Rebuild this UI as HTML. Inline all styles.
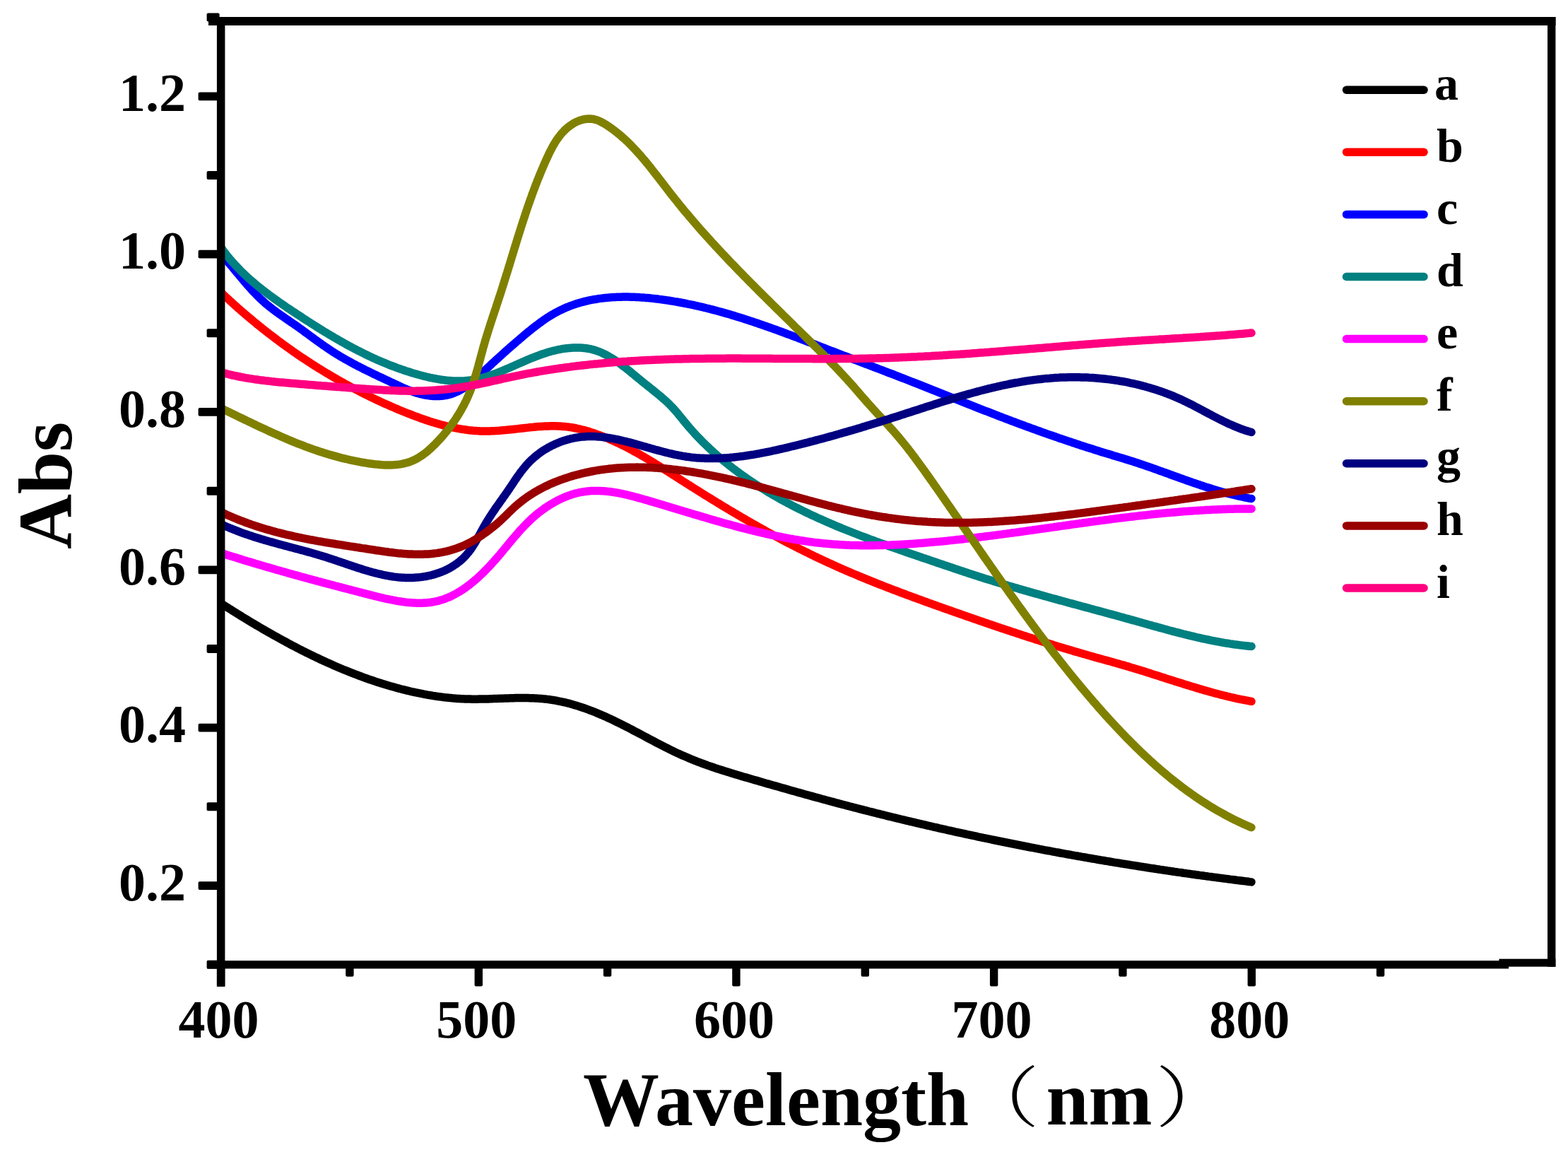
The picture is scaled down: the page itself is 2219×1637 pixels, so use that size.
<!DOCTYPE html>
<html><head><meta charset="utf-8"><title>Abs vs Wavelength</title>
<style>html,body{margin:0;padding:0;background:#fff;}svg{display:block;}</style>
</head><body>
<svg xmlns="http://www.w3.org/2000/svg" width="2219" height="1637" viewBox="0 0 2219 1637">
<rect x="0" y="0" width="2219" height="1637" fill="#fff"/>
<path d="M313.4,854.2 L315.5,855.5 L317.6,856.8 L319.7,858.2 L321.9,859.5 L324.0,860.9 L326.1,862.2 L328.2,863.5 L330.3,864.9 L332.4,866.2 L334.6,867.5 L336.7,868.8 L338.9,870.2 L341.0,871.5 L343.1,872.8 L345.3,874.1 L347.4,875.4 L349.6,876.7 L351.8,878.1 L353.9,879.4 L356.1,880.7 L358.3,882.0 L360.5,883.3 L362.6,884.6 L364.8,885.8 L367.0,887.1 L369.2,888.4 L371.4,889.7 L373.6,891.0 L375.8,892.3 L378.0,893.5 L380.2,894.8 L382.5,896.1 L384.7,897.3 L386.9,898.6 L389.1,899.8 L391.4,901.1 L393.6,902.3 L395.8,903.5 L398.1,904.8 L400.3,906.0 L402.6,907.2 L404.8,908.4 L407.1,909.6 L409.3,910.9 L411.6,912.1 L413.9,913.3 L416.1,914.4 L418.4,915.6 L420.7,916.8 L423.0,918.0 L425.2,919.2 L427.5,920.3 L429.8,921.5 L432.1,922.6 L434.4,923.8 L436.7,924.9 L439.0,926.0 L441.3,927.2 L443.6,928.3 L445.9,929.4 L448.2,930.5 L450.6,931.6 L452.9,932.7 L455.2,933.8 L457.5,934.9 L459.9,935.9 L462.2,937.0 L464.5,938.0 L466.9,939.1 L469.2,940.1 L471.6,941.2 L473.9,942.2 L476.3,943.2 L478.6,944.2 L481.0,945.2 L483.4,946.2 L485.7,947.2 L488.1,948.2 L490.5,949.1 L492.8,950.1 L495.2,951.0 L497.6,952.0 L500.0,952.9 L502.4,953.8 L504.8,954.7 L507.1,955.6 L509.5,956.5 L511.9,957.4 L514.3,958.3 L516.7,959.2 L519.1,960.0 L521.5,960.9 L524.0,961.7 L526.4,962.5 L528.8,963.3 L531.2,964.2 L533.6,964.9 L536.1,965.7 L538.5,966.5 L540.9,967.3 L543.3,968.0 L545.8,968.8 L548.2,969.5 L550.7,970.2 L553.1,970.9 L555.5,971.6 L558.0,972.3 L560.4,973.0 L562.9,973.7 L565.3,974.3 L567.8,975.0 L570.3,975.6 L572.7,976.2 L575.2,976.8 L577.6,977.4 L580.1,978.0 L582.6,978.6 L585.1,979.1 L587.5,979.7 L590.0,980.2 L592.5,980.7 L595.0,981.2 L597.5,981.7 L599.9,982.2 L602.4,982.6 L604.9,983.1 L607.4,983.5 L609.9,983.9 L612.4,984.4 L614.9,984.7 L617.4,985.1 L619.9,985.5 L622.4,985.8 L625.0,986.1 L627.5,986.5 L630.0,986.8 L632.5,987.0 L635.0,987.3 L637.5,987.5 L640.1,987.8 L642.6,988.0 L645.1,988.2 L647.7,988.4 L650.2,988.5 L652.7,988.7 L655.3,988.8 L657.8,988.9 L660.4,989.0 L662.9,989.1 L665.4,989.1 L668.0,989.2 L670.5,989.2 L673.1,989.2 L675.7,989.2 L678.2,989.1 L680.8,989.1 L683.3,989.1 L685.9,989.0 L688.4,988.9 L691.0,988.9 L693.6,988.8 L696.1,988.7 L698.7,988.6 L701.3,988.5 L703.8,988.4 L706.4,988.3 L709.0,988.3 L711.5,988.2 L714.1,988.1 L716.6,988.0 L719.2,987.9 L721.8,987.8 L724.3,987.8 L726.9,987.7 L729.4,987.6 L732.0,987.6 L734.5,987.6 L737.1,987.5 L739.6,987.5 L742.2,987.5 L744.7,987.6 L747.2,987.6 L749.8,987.7 L752.3,987.7 L754.8,987.8 L757.4,987.9 L759.9,988.1 L762.4,988.2 L764.9,988.4 L767.4,988.6 L769.9,988.9 L772.4,989.1 L774.9,989.4 L777.4,989.7 L779.9,990.1 L782.4,990.5 L784.9,990.9 L787.4,991.3 L789.8,991.8 L792.3,992.3 L794.8,992.8 L797.2,993.3 L799.7,993.9 L802.1,994.5 L804.6,995.1 L807.0,995.8 L809.5,996.5 L811.9,997.2 L814.3,997.9 L816.7,998.6 L819.1,999.4 L821.6,1000.2 L824.0,1001.0 L826.4,1001.8 L828.8,1002.6 L831.1,1003.5 L833.5,1004.4 L835.9,1005.3 L838.3,1006.2 L840.7,1007.1 L843.0,1008.1 L845.4,1009.1 L847.7,1010.1 L850.1,1011.1 L852.4,1012.1 L854.8,1013.1 L857.1,1014.1 L859.5,1015.2 L861.8,1016.3 L864.1,1017.3 L866.4,1018.4 L868.7,1019.5 L871.0,1020.6 L873.3,1021.8 L875.6,1022.9 L877.9,1024.0 L880.2,1025.2 L882.5,1026.3 L884.8,1027.5 L887.1,1028.6 L889.3,1029.8 L891.6,1031.0 L893.9,1032.2 L896.1,1033.4 L898.4,1034.6 L900.7,1035.7 L902.9,1036.9 L905.2,1038.1 L907.4,1039.3 L909.7,1040.5 L911.9,1041.7 L914.2,1042.9 L916.4,1044.1 L918.7,1045.3 L920.9,1046.5 L923.2,1047.7 L925.5,1048.9 L927.7,1050.1 L930.0,1051.3 L932.2,1052.4 L934.5,1053.6 L936.7,1054.8 L939.0,1055.9 L941.3,1057.1 L943.5,1058.2 L945.8,1059.3 L948.1,1060.5 L950.4,1061.6 L952.7,1062.7 L954.9,1063.8 L957.2,1064.9 L959.5,1065.9 L961.8,1067.0 L964.1,1068.1 L966.5,1069.1 L968.8,1070.1 L971.1,1071.1 L973.4,1072.1 L975.8,1073.1 L978.1,1074.1 L980.5,1075.0 L982.8,1076.0 L985.2,1076.9 L987.5,1077.8 L989.9,1078.7 L992.3,1079.6 L994.7,1080.5 L997.0,1081.3 L999.4,1082.2 L1001.8,1083.1 L1004.2,1083.9 L1006.6,1084.7 L1009.0,1085.5 L1011.4,1086.4 L1013.8,1087.2 L1016.2,1088.0 L1018.7,1088.7 L1021.1,1089.5 L1023.5,1090.3 L1025.9,1091.1 L1028.3,1091.8 L1030.8,1092.6 L1033.2,1093.3 L1035.6,1094.1 L1038.1,1094.8 L1040.5,1095.6 L1043.0,1096.3 L1045.4,1097.0 L1047.9,1097.7 L1050.3,1098.5 L1052.7,1099.2 L1055.2,1099.9 L1057.6,1100.6 L1060.1,1101.3 L1062.5,1102.0 L1065.0,1102.7 L1067.4,1103.4 L1069.9,1104.1 L1072.4,1104.8 L1074.8,1105.6 L1077.3,1106.3 L1079.7,1107.0 L1082.2,1107.7 L1084.6,1108.4 L1087.1,1109.1 L1089.5,1109.8 L1092.0,1110.5 L1094.4,1111.2 L1096.9,1111.9 L1099.3,1112.6 L1101.8,1113.3 L1104.3,1114.0 L1106.7,1114.7 L1109.2,1115.4 L1111.6,1116.1 L1114.1,1116.8 L1116.5,1117.5 L1119.0,1118.2 L1121.4,1118.9 L1123.9,1119.5 L1126.4,1120.2 L1128.8,1120.9 L1131.3,1121.6 L1133.7,1122.3 L1136.2,1123.0 L1138.7,1123.7 L1141.1,1124.4 L1143.6,1125.0 L1146.0,1125.7 L1148.5,1126.4 L1151.0,1127.1 L1153.4,1127.8 L1155.9,1128.4 L1158.3,1129.1 L1160.8,1129.8 L1163.3,1130.5 L1165.7,1131.1 L1168.2,1131.8 L1170.6,1132.5 L1173.1,1133.1 L1175.6,1133.8 L1178.0,1134.4 L1180.5,1135.1 L1183.0,1135.8 L1185.4,1136.4 L1187.9,1137.1 L1190.4,1137.7 L1192.8,1138.4 L1195.3,1139.0 L1197.8,1139.7 L1200.2,1140.3 L1202.7,1141.0 L1205.2,1141.6 L1207.6,1142.3 L1210.1,1142.9 L1212.6,1143.5 L1215.1,1144.2 L1217.5,1144.8 L1220.0,1145.4 L1222.5,1146.1 L1224.9,1146.7 L1227.4,1147.3 L1229.9,1148.0 L1232.4,1148.6 L1234.8,1149.2 L1237.3,1149.8 L1239.8,1150.5 L1242.2,1151.1 L1244.7,1151.7 L1247.2,1152.3 L1249.7,1152.9 L1252.1,1153.5 L1254.6,1154.2 L1257.1,1154.8 L1259.6,1155.4 L1262.1,1156.0 L1264.5,1156.6 L1267.0,1157.2 L1269.5,1157.8 L1272.0,1158.4 L1274.4,1159.0 L1276.9,1159.6 L1279.4,1160.2 L1281.9,1160.8 L1284.4,1161.4 L1286.8,1162.0 L1289.3,1162.5 L1291.8,1163.1 L1294.3,1163.7 L1296.8,1164.3 L1299.2,1164.9 L1301.7,1165.5 L1304.2,1166.0 L1306.7,1166.6 L1309.2,1167.2 L1311.7,1167.8 L1314.1,1168.4 L1316.6,1168.9 L1319.1,1169.5 L1321.6,1170.1 L1324.1,1170.6 L1326.6,1171.2 L1329.1,1171.8 L1331.5,1172.3 L1334.0,1172.9 L1336.5,1173.4 L1339.0,1174.0 L1341.5,1174.6 L1344.0,1175.1 L1346.5,1175.7 L1348.9,1176.2 L1351.4,1176.8 L1353.9,1177.3 L1356.4,1177.9 L1358.9,1178.4 L1361.4,1178.9 L1363.9,1179.5 L1366.4,1180.0 L1368.9,1180.6 L1371.4,1181.1 L1373.8,1181.6 L1376.3,1182.2 L1378.8,1182.7 L1381.3,1183.2 L1383.8,1183.8 L1386.3,1184.3 L1388.8,1184.8 L1391.3,1185.4 L1393.8,1185.9 L1396.3,1186.4 L1398.8,1186.9 L1401.3,1187.4 L1403.8,1188.0 L1406.3,1188.5 L1408.8,1189.0 L1411.3,1189.5 L1413.8,1190.0 L1416.3,1190.5 L1418.7,1191.0 L1421.2,1191.5 L1423.7,1192.0 L1426.2,1192.5 L1428.7,1193.0 L1431.2,1193.5 L1433.7,1194.0 L1436.2,1194.5 L1438.7,1195.0 L1441.2,1195.5 L1443.7,1196.0 L1446.2,1196.5 L1448.7,1197.0 L1451.2,1197.5 L1453.7,1198.0 L1456.2,1198.5 L1458.7,1199.0 L1461.2,1199.4 L1463.7,1199.9 L1466.2,1200.4 L1468.8,1200.9 L1471.3,1201.4 L1473.8,1201.8 L1476.3,1202.3 L1478.8,1202.8 L1481.3,1203.3 L1483.8,1203.7 L1486.3,1204.2 L1488.8,1204.7 L1491.3,1205.1 L1493.8,1205.6 L1496.3,1206.0 L1498.8,1206.5 L1501.3,1207.0 L1503.8,1207.4 L1506.3,1207.9 L1508.8,1208.3 L1511.3,1208.8 L1513.9,1209.2 L1516.4,1209.7 L1518.9,1210.1 L1521.4,1210.6 L1523.9,1211.0 L1526.4,1211.5 L1528.9,1211.9 L1531.4,1212.4 L1533.9,1212.8 L1536.4,1213.2 L1538.9,1213.7 L1541.5,1214.1 L1544.0,1214.5 L1546.5,1215.0 L1549.0,1215.4 L1551.5,1215.8 L1554.0,1216.3 L1556.5,1216.7 L1559.0,1217.1 L1561.6,1217.5 L1564.1,1218.0 L1566.6,1218.4 L1569.1,1218.8 L1571.6,1219.2 L1574.1,1219.6 L1576.6,1220.1 L1579.2,1220.5 L1581.7,1220.9 L1584.2,1221.3 L1586.7,1221.7 L1589.2,1222.1 L1591.7,1222.5 L1594.3,1222.9 L1596.8,1223.3 L1599.3,1223.7 L1601.8,1224.1 L1604.3,1224.5 L1606.8,1224.9 L1609.4,1225.3 L1611.9,1225.7 L1614.4,1226.1 L1616.9,1226.5 L1619.4,1226.9 L1622.0,1227.3 L1624.5,1227.7 L1627.0,1228.1 L1629.5,1228.5 L1632.0,1228.8 L1634.6,1229.2 L1637.1,1229.6 L1639.6,1230.0 L1642.1,1230.4 L1644.6,1230.7 L1647.2,1231.1 L1649.7,1231.5 L1652.2,1231.9 L1654.7,1232.2 L1657.2,1232.6 L1659.8,1233.0 L1662.3,1233.4 L1664.8,1233.7 L1667.3,1234.1 L1669.9,1234.4 L1672.4,1234.8 L1674.9,1235.2 L1677.4,1235.5 L1680.0,1235.9 L1682.5,1236.2 L1685.0,1236.6 L1687.5,1237.0 L1690.1,1237.3 L1692.6,1237.7 L1695.1,1238.0 L1697.6,1238.4 L1700.2,1238.7 L1702.7,1239.0 L1705.2,1239.4 L1707.7,1239.7 L1710.3,1240.1 L1712.8,1240.4 L1715.3,1240.8 L1717.9,1241.1 L1720.4,1241.4 L1722.9,1241.8 L1725.4,1242.1 L1728.0,1242.4 L1730.5,1242.8 L1733.0,1243.1 L1735.6,1243.4 L1738.1,1243.7 L1740.6,1244.1 L1743.2,1244.4 L1745.7,1244.7 L1748.2,1245.0 L1750.7,1245.4 L1753.3,1245.7 L1755.8,1246.0 L1758.3,1246.3 L1760.9,1246.6 L1763.4,1246.9 L1765.9,1247.2 L1768.5,1247.6 L1771.0,1247.9" fill="none" stroke="#000000" stroke-width="11.5" stroke-linejoin="round" stroke-linecap="round"/>
<path d="M312.9,413.9 L314.8,415.7 L316.7,417.5 L318.7,419.3 L320.6,421.1 L322.6,422.9 L324.5,424.7 L326.5,426.5 L328.5,428.3 L330.4,430.1 L332.4,431.9 L334.4,433.6 L336.4,435.4 L338.4,437.2 L340.4,438.9 L342.4,440.7 L344.4,442.4 L346.4,444.1 L348.5,445.9 L350.5,447.6 L352.5,449.3 L354.6,451.0 L356.6,452.7 L358.6,454.4 L360.7,456.1 L362.8,457.8 L364.8,459.5 L366.9,461.1 L369.0,462.8 L371.0,464.5 L373.1,466.1 L375.2,467.8 L377.3,469.4 L379.4,471.1 L381.5,472.7 L383.6,474.3 L385.7,475.9 L387.9,477.5 L390.0,479.1 L392.1,480.7 L394.2,482.3 L396.4,483.9 L398.5,485.5 L400.7,487.1 L402.8,488.6 L405.0,490.2 L407.2,491.7 L409.3,493.3 L411.5,494.8 L413.7,496.4 L415.9,497.9 L418.0,499.4 L420.2,500.9 L422.4,502.4 L424.6,503.9 L426.8,505.4 L429.1,506.9 L431.3,508.3 L433.5,509.8 L435.7,511.3 L437.9,512.7 L440.2,514.2 L442.4,515.6 L444.7,517.1 L446.9,518.5 L449.2,519.9 L451.4,521.3 L453.7,522.7 L456.0,524.1 L458.2,525.5 L460.5,526.9 L462.8,528.3 L465.1,529.6 L467.4,531.0 L469.7,532.3 L472.0,533.7 L474.3,535.0 L476.6,536.3 L478.9,537.7 L481.2,539.0 L483.5,540.3 L485.9,541.6 L488.2,542.9 L490.5,544.2 L492.9,545.4 L495.2,546.7 L497.6,548.0 L499.9,549.2 L502.3,550.5 L504.6,551.7 L507.0,552.9 L509.4,554.1 L511.7,555.4 L514.1,556.6 L516.5,557.8 L518.9,558.9 L521.3,560.1 L523.7,561.3 L526.1,562.5 L528.5,563.6 L530.9,564.8 L533.3,565.9 L535.7,567.0 L538.1,568.2 L540.6,569.3 L543.0,570.4 L545.4,571.5 L547.9,572.6 L550.3,573.6 L552.7,574.7 L555.2,575.8 L557.6,576.8 L560.1,577.9 L562.6,578.9 L565.0,580.0 L567.5,581.0 L570.0,582.0 L572.4,583.0 L574.9,584.0 L577.4,585.0 L579.9,585.9 L582.4,586.9 L584.9,587.9 L587.4,588.8 L589.9,589.7 L592.4,590.7 L594.9,591.6 L597.4,592.5 L599.9,593.3 L602.5,594.2 L605.0,595.0 L607.5,595.9 L610.1,596.7 L612.6,597.5 L615.2,598.2 L617.7,599.0 L620.3,599.7 L622.8,600.5 L625.4,601.2 L627.9,601.8 L630.5,602.5 L633.1,603.1 L635.6,603.7 L638.2,604.3 L640.8,604.9 L643.4,605.4 L646.0,605.9 L648.6,606.4 L651.2,606.8 L653.8,607.3 L656.4,607.6 L659.0,608.0 L661.6,608.4 L664.2,608.7 L666.8,608.9 L669.5,609.2 L672.1,609.4 L674.7,609.6 L677.4,609.7 L680.0,609.9 L682.7,609.9 L685.3,610.0 L688.0,610.0 L690.6,610.0 L693.3,609.9 L695.9,609.8 L698.6,609.7 L701.3,609.6 L703.9,609.4 L706.6,609.3 L709.3,609.0 L712.0,608.8 L714.7,608.6 L717.3,608.3 L720.0,608.1 L722.7,607.8 L725.4,607.5 L728.1,607.2 L730.7,606.9 L733.4,606.6 L736.1,606.3 L738.8,606.0 L741.5,605.7 L744.2,605.4 L746.8,605.1 L749.5,604.8 L752.2,604.5 L754.9,604.3 L757.6,604.0 L760.2,603.8 L762.9,603.6 L765.6,603.4 L768.2,603.2 L770.9,603.1 L773.6,603.0 L776.2,602.9 L778.9,602.8 L781.5,602.8 L784.2,602.8 L786.8,602.8 L789.4,602.9 L792.1,603.0 L794.7,603.2 L797.3,603.4 L799.9,603.6 L802.5,603.9 L805.1,604.2 L807.7,604.6 L810.3,605.0 L812.9,605.5 L815.5,606.0 L818.0,606.6 L820.6,607.1 L823.2,607.8 L825.7,608.4 L828.2,609.1 L830.8,609.8 L833.3,610.6 L835.8,611.4 L838.3,612.2 L840.8,613.0 L843.3,613.9 L845.8,614.8 L848.3,615.7 L850.7,616.6 L853.2,617.5 L855.6,618.5 L858.1,619.5 L860.5,620.5 L862.9,621.6 L865.3,622.6 L867.8,623.7 L870.2,624.8 L872.6,625.9 L875.0,627.0 L877.3,628.2 L879.7,629.3 L882.1,630.5 L884.5,631.7 L886.8,632.9 L889.2,634.1 L891.5,635.4 L893.9,636.6 L896.2,637.9 L898.5,639.2 L900.9,640.5 L903.2,641.8 L905.5,643.1 L907.8,644.4 L910.2,645.8 L912.5,647.1 L914.8,648.5 L917.1,649.8 L919.4,651.2 L921.7,652.6 L924.0,654.0 L926.3,655.4 L928.5,656.8 L930.8,658.2 L933.1,659.6 L935.4,661.1 L937.7,662.5 L939.9,663.9 L942.2,665.4 L944.5,666.8 L946.8,668.2 L949.0,669.7 L951.3,671.1 L953.6,672.6 L955.8,674.0 L958.1,675.5 L960.4,676.9 L962.7,678.4 L964.9,679.8 L967.2,681.3 L969.5,682.7 L971.7,684.2 L974.0,685.6 L976.3,687.0 L978.5,688.5 L980.8,689.9 L983.1,691.3 L985.4,692.8 L987.6,694.2 L989.9,695.6 L992.2,697.0 L994.5,698.5 L996.7,699.9 L999.0,701.3 L1001.3,702.7 L1003.6,704.1 L1005.9,705.5 L1008.1,706.9 L1010.4,708.3 L1012.7,709.7 L1015.0,711.1 L1017.3,712.5 L1019.6,713.9 L1021.8,715.3 L1024.1,716.7 L1026.4,718.0 L1028.7,719.4 L1031.0,720.8 L1033.3,722.2 L1035.6,723.5 L1037.9,724.9 L1040.2,726.3 L1042.5,727.6 L1044.8,729.0 L1047.1,730.3 L1049.4,731.7 L1051.7,733.0 L1054.0,734.3 L1056.3,735.7 L1058.6,737.0 L1060.9,738.3 L1063.2,739.7 L1065.5,741.0 L1067.9,742.3 L1070.2,743.6 L1072.5,744.9 L1074.8,746.2 L1077.1,747.5 L1079.5,748.8 L1081.8,750.1 L1084.1,751.4 L1086.4,752.7 L1088.8,754.0 L1091.1,755.3 L1093.4,756.5 L1095.8,757.8 L1098.1,759.1 L1100.5,760.3 L1102.8,761.6 L1105.1,762.8 L1107.5,764.1 L1109.8,765.3 L1112.2,766.6 L1114.5,767.8 L1116.9,769.0 L1119.3,770.2 L1121.6,771.5 L1124.0,772.7 L1126.3,773.9 L1128.7,775.1 L1131.1,776.3 L1133.4,777.5 L1135.8,778.7 L1138.2,779.9 L1140.6,781.0 L1143.0,782.2 L1145.3,783.4 L1147.7,784.6 L1150.1,785.7 L1152.5,786.9 L1154.9,788.0 L1157.3,789.2 L1159.7,790.3 L1162.1,791.4 L1164.5,792.6 L1166.9,793.7 L1169.3,794.8 L1171.7,795.9 L1174.2,797.0 L1176.6,798.1 L1179.0,799.2 L1181.4,800.3 L1183.9,801.4 L1186.3,802.5 L1188.7,803.6 L1191.1,804.6 L1193.6,805.7 L1196.0,806.8 L1198.5,807.8 L1200.9,808.9 L1203.4,809.9 L1205.8,811.0 L1208.3,812.0 L1210.7,813.0 L1213.2,814.1 L1215.6,815.1 L1218.1,816.1 L1220.5,817.1 L1223.0,818.1 L1225.5,819.1 L1227.9,820.1 L1230.4,821.1 L1232.9,822.1 L1235.4,823.1 L1237.8,824.1 L1240.3,825.1 L1242.8,826.1 L1245.3,827.1 L1247.8,828.0 L1250.2,829.0 L1252.7,830.0 L1255.2,831.0 L1257.7,831.9 L1260.2,832.9 L1262.7,833.8 L1265.2,834.8 L1267.7,835.7 L1270.2,836.7 L1272.6,837.6 L1275.1,838.6 L1277.6,839.5 L1280.1,840.4 L1282.6,841.4 L1285.1,842.3 L1287.6,843.2 L1290.1,844.1 L1292.7,845.1 L1295.2,846.0 L1297.7,846.9 L1300.2,847.8 L1302.7,848.7 L1305.2,849.6 L1307.7,850.6 L1310.2,851.5 L1312.7,852.4 L1315.2,853.3 L1317.7,854.2 L1320.2,855.1 L1322.8,856.0 L1325.3,856.9 L1327.8,857.8 L1330.3,858.7 L1332.8,859.6 L1335.3,860.5 L1337.8,861.4 L1340.4,862.2 L1342.9,863.1 L1345.4,864.0 L1347.9,864.9 L1350.4,865.8 L1352.9,866.7 L1355.4,867.6 L1358.0,868.4 L1360.5,869.3 L1363.0,870.2 L1365.5,871.1 L1368.0,872.0 L1370.5,872.8 L1373.0,873.7 L1375.6,874.6 L1378.1,875.5 L1380.6,876.3 L1383.1,877.2 L1385.6,878.1 L1388.1,878.9 L1390.7,879.8 L1393.2,880.7 L1395.7,881.5 L1398.2,882.4 L1400.7,883.3 L1403.3,884.1 L1405.8,885.0 L1408.3,885.8 L1410.8,886.7 L1413.3,887.5 L1415.9,888.4 L1418.4,889.2 L1420.9,890.1 L1423.4,890.9 L1426.0,891.8 L1428.5,892.6 L1431.0,893.4 L1433.5,894.3 L1436.1,895.1 L1438.6,895.9 L1441.1,896.8 L1443.6,897.6 L1446.2,898.4 L1448.7,899.3 L1451.2,900.1 L1453.8,900.9 L1456.3,901.7 L1458.8,902.5 L1461.4,903.3 L1463.9,904.2 L1466.4,905.0 L1469.0,905.8 L1471.5,906.6 L1474.0,907.4 L1476.6,908.2 L1479.1,909.0 L1481.6,909.8 L1484.2,910.6 L1486.7,911.3 L1489.3,912.1 L1491.8,912.9 L1494.4,913.7 L1496.9,914.5 L1499.4,915.2 L1502.0,916.0 L1504.5,916.8 L1507.1,917.6 L1509.6,918.3 L1512.2,919.1 L1514.7,919.8 L1517.3,920.6 L1519.8,921.4 L1522.4,922.1 L1524.9,922.8 L1527.5,923.6 L1530.0,924.3 L1532.6,925.1 L1535.2,925.8 L1537.7,926.5 L1540.3,927.3 L1542.8,928.0 L1545.4,928.7 L1548.0,929.4 L1550.5,930.2 L1553.1,930.9 L1555.7,931.6 L1558.2,932.3 L1560.8,933.0 L1563.4,933.7 L1565.9,934.4 L1568.5,935.1 L1571.1,935.8 L1573.6,936.5 L1576.2,937.3 L1578.8,938.0 L1581.3,938.7 L1583.9,939.4 L1586.5,940.2 L1589.0,940.9 L1591.6,941.6 L1594.1,942.4 L1596.7,943.1 L1599.2,943.9 L1601.8,944.7 L1604.4,945.4 L1606.9,946.2 L1609.5,947.0 L1612.0,947.8 L1614.5,948.6 L1617.1,949.3 L1619.6,950.1 L1622.2,950.9 L1624.7,951.7 L1627.3,952.5 L1629.8,953.4 L1632.3,954.2 L1634.9,955.0 L1637.4,955.8 L1640.0,956.6 L1642.5,957.4 L1645.0,958.2 L1647.6,959.0 L1650.1,959.9 L1652.7,960.7 L1655.2,961.5 L1657.7,962.3 L1660.3,963.1 L1662.8,963.9 L1665.4,964.7 L1667.9,965.5 L1670.4,966.3 L1673.0,967.1 L1675.5,967.9 L1678.1,968.7 L1680.6,969.5 L1683.2,970.3 L1685.7,971.1 L1688.3,971.8 L1690.8,972.6 L1693.4,973.4 L1695.9,974.1 L1698.5,974.9 L1701.0,975.6 L1703.6,976.4 L1706.1,977.1 L1708.7,977.8 L1711.3,978.6 L1713.8,979.3 L1716.4,980.0 L1719.0,980.7 L1721.5,981.4 L1724.1,982.0 L1726.7,982.7 L1729.3,983.4 L1731.9,984.0 L1734.4,984.6 L1737.0,985.3 L1739.6,985.9 L1742.2,986.5 L1744.8,987.1 L1747.4,987.7 L1750.0,988.3 L1752.6,988.8 L1755.2,989.4 L1757.8,989.9 L1760.5,990.4 L1763.1,990.9 L1765.7,991.4 L1768.3,991.9 L1771.0,992.4" fill="none" stroke="#ff0000" stroke-width="11.5" stroke-linejoin="round" stroke-linecap="round"/>
<path d="M313.9,361.0 L315.7,362.9 L317.5,364.9 L319.3,366.9 L321.1,368.9 L322.8,370.9 L324.6,373.0 L326.3,375.0 L328.1,377.1 L329.8,379.1 L331.5,381.2 L333.2,383.3 L335.0,385.4 L336.7,387.4 L338.4,389.5 L340.2,391.6 L341.9,393.7 L343.7,395.7 L345.4,397.8 L347.2,399.9 L348.9,401.9 L350.7,404.0 L352.5,406.0 L354.3,408.0 L356.1,410.0 L358.0,412.0 L359.8,413.9 L361.7,415.9 L363.5,417.8 L365.4,419.7 L367.4,421.6 L369.3,423.5 L371.3,425.3 L373.3,427.1 L375.3,428.9 L377.3,430.6 L379.4,432.3 L381.5,434.0 L383.6,435.6 L385.7,437.3 L387.9,438.9 L390.0,440.5 L392.2,442.1 L394.4,443.7 L396.6,445.2 L398.8,446.8 L401.0,448.3 L403.2,449.8 L405.4,451.4 L407.7,452.9 L409.9,454.4 L412.1,455.9 L414.3,457.5 L416.6,459.0 L418.8,460.6 L421.0,462.1 L423.2,463.7 L425.4,465.3 L427.6,466.8 L429.7,468.4 L431.9,470.0 L434.1,471.6 L436.3,473.2 L438.4,474.8 L440.6,476.4 L442.8,478.0 L444.9,479.6 L447.1,481.2 L449.3,482.7 L451.5,484.3 L453.7,485.9 L455.8,487.4 L458.0,489.0 L460.3,490.5 L462.5,492.0 L464.7,493.5 L466.9,495.0 L469.2,496.5 L471.4,498.0 L473.7,499.4 L476.0,500.8 L478.2,502.2 L480.5,503.6 L482.8,505.0 L485.2,506.3 L487.5,507.7 L489.8,509.0 L492.2,510.3 L494.5,511.6 L496.9,512.9 L499.3,514.2 L501.6,515.5 L504.0,516.7 L506.4,518.0 L508.8,519.2 L511.2,520.4 L513.6,521.6 L516.0,522.9 L518.5,524.1 L520.9,525.2 L523.3,526.4 L525.8,527.6 L528.2,528.8 L530.6,530.0 L533.1,531.1 L535.5,532.3 L538.0,533.5 L540.4,534.6 L542.9,535.8 L545.4,536.9 L547.8,538.1 L550.3,539.2 L552.7,540.4 L555.2,541.5 L557.7,542.7 L560.1,543.8 L562.6,545.0 L565.1,546.1 L567.5,547.3 L570.0,548.4 L572.5,549.5 L575.0,550.6 L577.5,551.6 L580.0,552.6 L582.5,553.6 L585.1,554.5 L587.7,555.4 L590.3,556.2 L592.9,556.9 L595.5,557.6 L598.1,558.2 L600.8,558.8 L603.4,559.2 L606.0,559.6 L608.7,560.0 L611.3,560.2 L614.0,560.4 L616.6,560.5 L619.2,560.5 L621.8,560.4 L624.4,560.3 L627.0,560.0 L629.6,559.6 L632.1,559.2 L634.7,558.6 L637.1,558.0 L639.6,557.2 L642.0,556.3 L644.4,555.3 L646.8,554.3 L649.2,553.1 L651.5,551.9 L653.8,550.5 L656.0,549.1 L658.3,547.7 L660.5,546.1 L662.7,544.6 L664.8,542.9 L667.0,541.2 L669.1,539.5 L671.2,537.7 L673.2,535.9 L675.3,534.1 L677.3,532.3 L679.4,530.4 L681.4,528.5 L683.4,526.7 L685.4,524.8 L687.3,522.9 L689.3,521.1 L691.3,519.2 L693.3,517.4 L695.3,515.5 L697.2,513.7 L699.2,511.9 L701.2,510.1 L703.2,508.3 L705.1,506.5 L707.1,504.7 L709.1,502.9 L711.1,501.1 L713.0,499.3 L715.0,497.5 L717.0,495.8 L719.0,494.0 L721.0,492.2 L723.0,490.5 L725.0,488.7 L727.1,487.0 L729.1,485.2 L731.1,483.4 L733.2,481.7 L735.2,479.9 L737.3,478.2 L739.3,476.4 L741.4,474.7 L743.5,472.9 L745.6,471.2 L747.7,469.4 L749.9,467.7 L752.0,466.0 L754.1,464.3 L756.3,462.6 L758.5,460.9 L760.7,459.3 L762.9,457.6 L765.1,456.0 L767.3,454.4 L769.5,452.8 L771.8,451.3 L774.0,449.8 L776.3,448.3 L778.6,446.9 L780.9,445.5 L783.3,444.1 L785.6,442.8 L788.0,441.5 L790.4,440.2 L792.7,439.0 L795.2,437.9 L797.6,436.8 L800.0,435.7 L802.5,434.7 L804.9,433.7 L807.4,432.7 L809.9,431.8 L812.4,430.9 L815.0,430.1 L817.5,429.3 L820.1,428.5 L822.6,427.8 L825.2,427.1 L827.8,426.4 L830.4,425.8 L833.0,425.2 L835.6,424.7 L838.2,424.2 L840.8,423.7 L843.5,423.3 L846.1,422.8 L848.8,422.4 L851.5,422.1 L854.1,421.8 L856.8,421.5 L859.5,421.2 L862.2,421.0 L864.9,420.8 L867.6,420.6 L870.3,420.4 L873.0,420.3 L875.8,420.2 L878.5,420.2 L881.2,420.1 L883.9,420.1 L886.7,420.1 L889.4,420.1 L892.1,420.2 L894.9,420.2 L897.6,420.3 L900.4,420.5 L903.1,420.6 L905.9,420.8 L908.6,420.9 L911.3,421.1 L914.1,421.4 L916.8,421.6 L919.6,421.8 L922.3,422.1 L925.0,422.4 L927.8,422.7 L930.5,423.0 L933.2,423.4 L935.9,423.7 L938.6,424.1 L941.3,424.5 L944.1,424.9 L946.8,425.3 L949.5,425.7 L952.1,426.1 L954.8,426.6 L957.5,427.0 L960.2,427.5 L962.8,428.0 L965.5,428.5 L968.2,429.0 L970.8,429.5 L973.5,430.1 L976.1,430.6 L978.8,431.1 L981.4,431.7 L984.0,432.3 L986.7,432.9 L989.3,433.5 L991.9,434.1 L994.5,434.7 L997.1,435.3 L999.7,436.0 L1002.4,436.6 L1005.0,437.3 L1007.6,437.9 L1010.1,438.6 L1012.7,439.3 L1015.3,440.0 L1017.9,440.7 L1020.5,441.4 L1023.1,442.1 L1025.7,442.9 L1028.2,443.6 L1030.8,444.3 L1033.4,445.1 L1036.0,445.9 L1038.5,446.6 L1041.1,447.4 L1043.6,448.2 L1046.2,449.0 L1048.8,449.8 L1051.3,450.6 L1053.9,451.4 L1056.4,452.2 L1059.0,453.1 L1061.5,453.9 L1064.1,454.7 L1066.6,455.6 L1069.2,456.5 L1071.7,457.3 L1074.3,458.2 L1076.8,459.1 L1079.4,459.9 L1081.9,460.8 L1084.5,461.7 L1087.0,462.6 L1089.5,463.5 L1092.1,464.4 L1094.6,465.3 L1097.2,466.2 L1099.7,467.2 L1102.2,468.1 L1104.8,469.0 L1107.3,469.9 L1109.8,470.9 L1112.4,471.8 L1114.9,472.8 L1117.4,473.7 L1120.0,474.6 L1122.5,475.6 L1125.0,476.5 L1127.6,477.5 L1130.1,478.5 L1132.6,479.4 L1135.1,480.4 L1137.7,481.4 L1140.2,482.3 L1142.7,483.3 L1145.3,484.3 L1147.8,485.2 L1150.3,486.2 L1152.8,487.2 L1155.4,488.2 L1157.9,489.1 L1160.4,490.1 L1162.9,491.1 L1165.5,492.1 L1168.0,493.0 L1170.5,494.0 L1173.0,495.0 L1175.6,496.0 L1178.1,496.9 L1180.6,497.9 L1183.1,498.9 L1185.7,499.9 L1188.2,500.8 L1190.7,501.8 L1193.2,502.8 L1195.7,503.7 L1198.3,504.7 L1200.8,505.7 L1203.3,506.6 L1205.8,507.6 L1208.4,508.6 L1210.9,509.5 L1213.4,510.5 L1215.9,511.4 L1218.4,512.4 L1221.0,513.4 L1223.5,514.3 L1226.0,515.3 L1228.5,516.2 L1231.0,517.2 L1233.6,518.2 L1236.1,519.1 L1238.6,520.1 L1241.1,521.0 L1243.6,522.0 L1246.2,523.0 L1248.7,523.9 L1251.2,524.9 L1253.7,525.8 L1256.2,526.8 L1258.7,527.8 L1261.3,528.7 L1263.8,529.7 L1266.3,530.7 L1268.8,531.6 L1271.3,532.6 L1273.8,533.6 L1276.4,534.6 L1278.9,535.5 L1281.4,536.5 L1283.9,537.5 L1286.4,538.5 L1288.9,539.5 L1291.4,540.5 L1293.9,541.4 L1296.4,542.4 L1299.0,543.4 L1301.5,544.4 L1304.0,545.4 L1306.5,546.4 L1309.0,547.4 L1311.5,548.4 L1314.0,549.4 L1316.5,550.4 L1319.0,551.4 L1321.5,552.4 L1324.1,553.4 L1326.6,554.4 L1329.1,555.4 L1331.6,556.4 L1334.1,557.4 L1336.6,558.4 L1339.1,559.4 L1341.6,560.4 L1344.1,561.4 L1346.6,562.4 L1349.1,563.4 L1351.7,564.4 L1354.2,565.4 L1356.7,566.4 L1359.2,567.4 L1361.7,568.4 L1364.2,569.4 L1366.7,570.4 L1369.2,571.4 L1371.7,572.4 L1374.3,573.4 L1376.8,574.3 L1379.3,575.3 L1381.8,576.3 L1384.3,577.3 L1386.8,578.3 L1389.3,579.3 L1391.9,580.3 L1394.4,581.3 L1396.9,582.2 L1399.4,583.2 L1401.9,584.2 L1404.4,585.2 L1407.0,586.2 L1409.5,587.1 L1412.0,588.1 L1414.5,589.1 L1417.0,590.0 L1419.6,591.0 L1422.1,592.0 L1424.6,592.9 L1427.1,593.9 L1429.7,594.8 L1432.2,595.8 L1434.7,596.7 L1437.2,597.7 L1439.8,598.6 L1442.3,599.6 L1444.8,600.5 L1447.4,601.4 L1449.9,602.4 L1452.4,603.3 L1455.0,604.2 L1457.5,605.2 L1460.0,606.1 L1462.6,607.0 L1465.1,607.9 L1467.6,608.8 L1470.2,609.7 L1472.7,610.7 L1475.3,611.6 L1477.8,612.5 L1480.4,613.4 L1482.9,614.3 L1485.4,615.2 L1488.0,616.0 L1490.5,616.9 L1493.1,617.8 L1495.6,618.7 L1498.2,619.6 L1500.7,620.5 L1503.3,621.3 L1505.8,622.2 L1508.4,623.1 L1511.0,623.9 L1513.5,624.8 L1516.1,625.6 L1518.6,626.5 L1521.2,627.3 L1523.8,628.2 L1526.3,629.0 L1528.9,629.9 L1531.4,630.7 L1534.0,631.5 L1536.6,632.4 L1539.2,633.2 L1541.7,634.0 L1544.3,634.8 L1546.9,635.6 L1549.4,636.5 L1552.0,637.3 L1554.6,638.1 L1557.2,638.9 L1559.7,639.7 L1562.3,640.5 L1564.9,641.3 L1567.5,642.0 L1570.1,642.8 L1572.7,643.6 L1575.2,644.4 L1577.8,645.2 L1580.4,645.9 L1583.0,646.7 L1585.6,647.5 L1588.2,648.3 L1590.8,649.1 L1593.3,649.9 L1595.9,650.6 L1598.5,651.5 L1601.1,652.3 L1603.7,653.1 L1606.2,653.9 L1608.8,654.8 L1611.4,655.6 L1613.9,656.5 L1616.5,657.3 L1619.0,658.2 L1621.6,659.1 L1624.1,660.0 L1626.7,660.8 L1629.2,661.7 L1631.8,662.6 L1634.3,663.5 L1636.9,664.4 L1639.4,665.3 L1642.0,666.3 L1644.5,667.2 L1647.1,668.1 L1649.6,669.0 L1652.1,669.9 L1654.7,670.8 L1657.2,671.8 L1659.8,672.7 L1662.3,673.6 L1664.8,674.5 L1667.4,675.4 L1669.9,676.4 L1672.5,677.3 L1675.0,678.2 L1677.6,679.1 L1680.1,680.0 L1682.6,680.9 L1685.2,681.8 L1687.7,682.7 L1690.3,683.5 L1692.8,684.4 L1695.4,685.3 L1698.0,686.1 L1700.5,687.0 L1703.1,687.8 L1705.6,688.7 L1708.2,689.5 L1710.8,690.3 L1713.4,691.1 L1715.9,691.9 L1718.5,692.7 L1721.1,693.5 L1723.7,694.3 L1726.3,695.0 L1728.9,695.8 L1731.5,696.5 L1734.1,697.2 L1736.7,697.9 L1739.3,698.6 L1741.9,699.2 L1744.5,699.9 L1747.1,700.5 L1749.8,701.2 L1752.4,701.8 L1755.1,702.4 L1757.7,702.9 L1760.3,703.5 L1763.0,704.0 L1765.7,704.6 L1768.3,705.1 L1771.0,705.5" fill="none" stroke="#0000ff" stroke-width="11.5" stroke-linejoin="round" stroke-linecap="round"/>
<path d="M314.0,351.9 L315.6,354.1 L317.3,356.4 L319.0,358.6 L320.7,360.8 L322.4,362.9 L324.2,365.0 L325.9,367.2 L327.7,369.2 L329.5,371.3 L331.4,373.3 L333.2,375.3 L335.1,377.3 L337.0,379.3 L338.9,381.3 L340.8,383.2 L342.7,385.1 L344.7,387.0 L346.7,388.9 L348.6,390.7 L350.6,392.5 L352.7,394.4 L354.7,396.2 L356.7,397.9 L358.8,399.7 L360.9,401.5 L362.9,403.2 L365.0,404.9 L367.1,406.6 L369.3,408.3 L371.4,410.0 L373.5,411.6 L375.7,413.3 L377.8,414.9 L380.0,416.6 L382.2,418.2 L384.4,419.8 L386.6,421.4 L388.8,423.0 L391.0,424.6 L393.2,426.1 L395.4,427.7 L397.7,429.2 L399.9,430.8 L402.1,432.3 L404.4,433.9 L406.6,435.4 L408.9,436.9 L411.2,438.4 L413.4,439.9 L415.7,441.4 L418.0,442.9 L420.2,444.4 L422.5,445.9 L424.8,447.4 L427.1,448.9 L429.3,450.4 L431.6,451.9 L433.9,453.4 L436.2,454.8 L438.5,456.3 L440.8,457.8 L443.1,459.2 L445.4,460.7 L447.7,462.1 L450.0,463.6 L452.3,465.0 L454.6,466.5 L456.9,467.9 L459.2,469.3 L461.5,470.7 L463.9,472.1 L466.2,473.5 L468.5,474.9 L470.9,476.3 L473.2,477.7 L475.6,479.0 L477.9,480.4 L480.3,481.7 L482.6,483.1 L485.0,484.4 L487.4,485.7 L489.7,487.1 L492.1,488.4 L494.5,489.7 L496.9,490.9 L499.3,492.2 L501.7,493.5 L504.1,494.7 L506.5,496.0 L508.9,497.2 L511.3,498.4 L513.8,499.6 L516.2,500.8 L518.6,502.0 L521.1,503.2 L523.6,504.4 L526.0,505.5 L528.5,506.7 L531.0,507.8 L533.4,508.9 L535.9,510.0 L538.4,511.1 L540.9,512.1 L543.4,513.2 L545.9,514.2 L548.5,515.3 L551.0,516.3 L553.5,517.3 L556.1,518.2 L558.6,519.2 L561.2,520.2 L563.8,521.1 L566.4,522.0 L568.9,522.9 L571.5,523.8 L574.1,524.7 L576.7,525.5 L579.4,526.3 L582.0,527.2 L584.6,528.0 L587.3,528.7 L589.9,529.5 L592.6,530.3 L595.3,531.0 L598.0,531.7 L600.6,532.4 L603.3,533.0 L606.0,533.7 L608.8,534.3 L611.5,534.8 L614.2,535.4 L616.9,535.9 L619.6,536.4 L622.3,536.8 L625.1,537.3 L627.8,537.6 L630.5,538.0 L633.2,538.3 L636.0,538.5 L638.7,538.7 L641.4,538.9 L644.1,539.0 L646.8,539.1 L649.5,539.1 L652.2,539.0 L654.8,538.9 L657.5,538.8 L660.2,538.6 L662.8,538.3 L665.5,538.0 L668.1,537.6 L670.7,537.2 L673.3,536.7 L676.0,536.1 L678.5,535.5 L681.1,534.9 L683.7,534.2 L686.3,533.5 L688.9,532.7 L691.4,531.9 L694.0,531.0 L696.5,530.1 L699.1,529.2 L701.6,528.3 L704.2,527.3 L706.7,526.3 L709.2,525.3 L711.8,524.2 L714.3,523.2 L716.8,522.1 L719.4,521.0 L721.9,519.9 L724.4,518.8 L727.0,517.7 L729.5,516.6 L732.0,515.5 L734.6,514.3 L737.1,513.2 L739.7,512.1 L742.2,511.0 L744.8,509.9 L747.3,508.8 L749.9,507.7 L752.5,506.7 L755.1,505.7 L757.7,504.6 L760.3,503.6 L762.9,502.7 L765.5,501.7 L768.1,500.8 L770.8,500.0 L773.4,499.1 L776.1,498.3 L778.7,497.5 L781.4,496.8 L784.1,496.1 L786.8,495.5 L789.4,494.9 L792.1,494.3 L794.8,493.8 L797.5,493.4 L800.2,493.0 L802.9,492.7 L805.6,492.4 L808.3,492.2 L810.9,492.0 L813.6,491.9 L816.3,491.9 L818.9,491.9 L821.5,492.0 L824.2,492.2 L826.8,492.5 L829.4,492.8 L832.0,493.2 L834.5,493.7 L837.1,494.2 L839.6,494.9 L842.1,495.6 L844.6,496.4 L847.1,497.3 L849.5,498.3 L851.9,499.3 L854.3,500.5 L856.7,501.6 L859.1,502.9 L861.5,504.2 L863.8,505.6 L866.1,507.0 L868.4,508.4 L870.7,509.9 L873.0,511.5 L875.3,513.1 L877.5,514.7 L879.8,516.4 L882.0,518.1 L884.2,519.8 L886.5,521.5 L888.7,523.3 L890.9,525.0 L893.1,526.8 L895.2,528.6 L897.4,530.4 L899.6,532.2 L901.8,534.0 L903.9,535.8 L906.1,537.5 L908.2,539.3 L910.4,541.1 L912.5,542.8 L914.7,544.5 L916.8,546.2 L919.0,547.9 L921.1,549.6 L923.2,551.3 L925.3,553.0 L927.4,554.7 L929.5,556.4 L931.6,558.1 L933.7,559.8 L935.7,561.5 L937.7,563.3 L939.7,565.0 L941.7,566.8 L943.7,568.6 L945.6,570.4 L947.5,572.3 L949.4,574.2 L951.3,576.1 L953.1,578.1 L954.9,580.1 L956.7,582.2 L958.5,584.2 L960.2,586.3 L961.9,588.4 L963.7,590.6 L965.4,592.7 L967.1,594.8 L968.9,597.0 L970.6,599.1 L972.4,601.2 L974.2,603.3 L975.9,605.4 L977.8,607.4 L979.6,609.5 L981.4,611.5 L983.3,613.6 L985.1,615.6 L987.0,617.6 L988.9,619.5 L990.8,621.5 L992.7,623.5 L994.6,625.4 L996.6,627.3 L998.5,629.2 L1000.5,631.1 L1002.5,633.0 L1004.5,634.9 L1006.5,636.8 L1008.5,638.6 L1010.5,640.4 L1012.6,642.3 L1014.6,644.1 L1016.7,645.9 L1018.8,647.6 L1020.9,649.4 L1023.0,651.2 L1025.1,652.9 L1027.2,654.6 L1029.3,656.3 L1031.5,658.0 L1033.6,659.7 L1035.8,661.4 L1037.9,663.1 L1040.1,664.7 L1042.3,666.3 L1044.5,668.0 L1046.7,669.6 L1048.9,671.2 L1051.1,672.8 L1053.3,674.3 L1055.6,675.9 L1057.8,677.5 L1060.1,679.0 L1062.3,680.5 L1064.6,682.0 L1066.9,683.5 L1069.2,685.0 L1071.4,686.5 L1073.7,688.0 L1076.0,689.4 L1078.3,690.9 L1080.7,692.3 L1083.0,693.7 L1085.3,695.2 L1087.6,696.6 L1090.0,697.9 L1092.3,699.3 L1094.7,700.7 L1097.0,702.0 L1099.4,703.4 L1101.8,704.7 L1104.1,706.1 L1106.5,707.4 L1108.9,708.7 L1111.3,710.0 L1113.7,711.3 L1116.1,712.5 L1118.5,713.8 L1120.9,715.1 L1123.3,716.3 L1125.7,717.6 L1128.2,718.8 L1130.6,720.0 L1133.0,721.2 L1135.5,722.4 L1137.9,723.6 L1140.4,724.8 L1142.8,726.0 L1145.3,727.1 L1147.7,728.3 L1150.2,729.5 L1152.7,730.6 L1155.1,731.7 L1157.6,732.9 L1160.1,734.0 L1162.6,735.1 L1165.1,736.2 L1167.6,737.3 L1170.1,738.4 L1172.6,739.5 L1175.1,740.6 L1177.6,741.7 L1180.1,742.7 L1182.6,743.8 L1185.1,744.8 L1187.7,745.9 L1190.2,746.9 L1192.7,748.0 L1195.2,749.0 L1197.8,750.0 L1200.3,751.0 L1202.9,752.0 L1205.4,753.0 L1207.9,754.0 L1210.5,755.0 L1213.0,756.0 L1215.6,757.0 L1218.1,758.0 L1220.7,759.0 L1223.3,759.9 L1225.8,760.9 L1228.4,761.9 L1230.9,762.8 L1233.5,763.8 L1236.1,764.7 L1238.6,765.7 L1241.2,766.6 L1243.8,767.5 L1246.3,768.5 L1248.9,769.4 L1251.5,770.3 L1254.1,771.2 L1256.6,772.2 L1259.2,773.1 L1261.8,774.0 L1264.4,774.9 L1267.0,775.8 L1269.5,776.7 L1272.1,777.6 L1274.7,778.5 L1277.3,779.4 L1279.9,780.3 L1282.5,781.2 L1285.0,782.1 L1287.6,783.0 L1290.2,783.9 L1292.8,784.8 L1295.4,785.6 L1298.0,786.5 L1300.5,787.4 L1303.1,788.3 L1305.7,789.2 L1308.3,790.0 L1310.9,790.9 L1313.5,791.8 L1316.0,792.7 L1318.6,793.6 L1321.2,794.4 L1323.8,795.3 L1326.4,796.2 L1328.9,797.1 L1331.5,797.9 L1334.1,798.8 L1336.7,799.7 L1339.2,800.5 L1341.8,801.4 L1344.4,802.3 L1347.0,803.1 L1349.5,804.0 L1352.1,804.9 L1354.7,805.7 L1357.3,806.6 L1359.9,807.5 L1362.4,808.3 L1365.0,809.2 L1367.6,810.0 L1370.2,810.9 L1372.7,811.7 L1375.3,812.6 L1377.9,813.4 L1380.5,814.2 L1383.1,815.1 L1385.7,815.9 L1388.2,816.7 L1390.8,817.6 L1393.4,818.4 L1396.0,819.2 L1398.6,820.0 L1401.2,820.8 L1403.8,821.6 L1406.4,822.4 L1409.0,823.2 L1411.6,824.0 L1414.2,824.8 L1416.8,825.6 L1419.4,826.4 L1422.0,827.2 L1424.6,828.0 L1427.2,828.8 L1429.8,829.5 L1432.4,830.3 L1435.0,831.1 L1437.7,831.8 L1440.3,832.6 L1442.9,833.4 L1445.5,834.1 L1448.1,834.9 L1450.7,835.6 L1453.4,836.4 L1456.0,837.1 L1458.6,837.9 L1461.2,838.6 L1463.8,839.4 L1466.5,840.1 L1469.1,840.8 L1471.7,841.6 L1474.4,842.3 L1477.0,843.1 L1479.6,843.8 L1482.2,844.5 L1484.9,845.2 L1487.5,846.0 L1490.1,846.7 L1492.8,847.4 L1495.4,848.1 L1498.0,848.9 L1500.7,849.6 L1503.3,850.3 L1505.9,851.0 L1508.6,851.7 L1511.2,852.5 L1513.8,853.2 L1516.5,853.9 L1519.1,854.6 L1521.7,855.3 L1524.4,856.0 L1527.0,856.7 L1529.7,857.5 L1532.3,858.2 L1534.9,858.9 L1537.6,859.6 L1540.2,860.3 L1542.8,861.0 L1545.5,861.7 L1548.1,862.5 L1550.8,863.2 L1553.4,863.9 L1556.0,864.6 L1558.7,865.3 L1561.3,866.0 L1563.9,866.7 L1566.6,867.5 L1569.2,868.2 L1571.8,868.9 L1574.5,869.6 L1577.1,870.3 L1579.7,871.0 L1582.4,871.8 L1585.0,872.5 L1587.6,873.2 L1590.3,873.9 L1592.9,874.7 L1595.5,875.4 L1598.2,876.1 L1600.8,876.9 L1603.4,877.6 L1606.1,878.3 L1608.7,879.1 L1611.3,879.8 L1613.9,880.5 L1616.6,881.3 L1619.2,882.0 L1621.8,882.7 L1624.4,883.5 L1627.1,884.2 L1629.7,884.9 L1632.3,885.7 L1634.9,886.4 L1637.6,887.1 L1640.2,887.9 L1642.8,888.6 L1645.5,889.3 L1648.1,890.0 L1650.7,890.7 L1653.3,891.5 L1656.0,892.2 L1658.6,892.9 L1661.2,893.6 L1663.9,894.3 L1666.5,894.9 L1669.1,895.6 L1671.8,896.3 L1674.4,897.0 L1677.1,897.6 L1679.7,898.3 L1682.3,898.9 L1685.0,899.6 L1687.6,900.2 L1690.3,900.8 L1692.9,901.5 L1695.6,902.1 L1698.2,902.7 L1700.9,903.3 L1703.6,903.9 L1706.2,904.4 L1708.9,905.0 L1711.6,905.5 L1714.2,906.1 L1716.9,906.6 L1719.6,907.1 L1722.3,907.6 L1724.9,908.1 L1727.6,908.6 L1730.3,909.1 L1733.0,909.6 L1735.7,910.0 L1738.4,910.4 L1741.1,910.9 L1743.8,911.3 L1746.5,911.7 L1749.2,912.0 L1751.9,912.4 L1754.7,912.8 L1757.4,913.1 L1760.1,913.4 L1762.8,913.7 L1765.6,914.0 L1768.3,914.3 L1771.1,914.5" fill="none" stroke="#008080" stroke-width="11.5" stroke-linejoin="round" stroke-linecap="round"/>
<path d="M312.9,782.5 L315.5,783.3 L318.0,784.1 L320.5,784.9 L323.1,785.7 L325.6,786.5 L328.1,787.3 L330.6,788.0 L333.2,788.8 L335.7,789.6 L338.2,790.4 L340.7,791.1 L343.2,791.9 L345.6,792.7 L348.1,793.4 L350.6,794.2 L353.1,794.9 L355.5,795.6 L358.0,796.4 L360.5,797.1 L362.9,797.9 L365.4,798.6 L367.8,799.3 L370.3,800.0 L372.7,800.7 L375.2,801.5 L377.6,802.2 L380.1,802.9 L382.5,803.6 L384.9,804.3 L387.4,805.0 L389.8,805.7 L392.2,806.4 L394.6,807.1 L397.1,807.8 L399.5,808.5 L401.9,809.1 L404.3,809.8 L406.7,810.5 L409.2,811.2 L411.6,811.9 L414.0,812.5 L416.4,813.2 L418.9,813.9 L421.3,814.6 L423.7,815.2 L426.1,815.9 L428.5,816.6 L431.0,817.2 L433.4,817.9 L435.8,818.5 L438.2,819.2 L440.7,819.9 L443.1,820.5 L445.5,821.2 L448.0,821.8 L450.4,822.5 L452.8,823.1 L455.3,823.8 L457.7,824.4 L460.2,825.1 L462.6,825.7 L465.1,826.4 L467.5,827.0 L470.0,827.7 L472.4,828.3 L474.9,829.0 L477.4,829.6 L479.9,830.3 L482.3,830.9 L484.8,831.6 L487.3,832.2 L489.8,832.9 L492.3,833.5 L494.8,834.2 L497.3,834.8 L499.8,835.5 L502.3,836.1 L504.9,836.8 L507.4,837.5 L509.9,838.1 L512.5,838.8 L515.0,839.4 L517.6,840.1 L520.2,840.7 L522.7,841.4 L525.3,842.1 L527.9,842.7 L530.5,843.4 L533.0,844.0 L535.6,844.6 L538.2,845.3 L540.8,845.9 L543.4,846.5 L546.0,847.1 L548.6,847.6 L551.2,848.2 L553.8,848.7 L556.4,849.2 L559.0,849.7 L561.6,850.2 L564.2,850.6 L566.8,851.0 L569.4,851.4 L572.0,851.8 L574.5,852.1 L577.1,852.4 L579.7,852.6 L582.2,852.8 L584.8,853.0 L587.3,853.1 L589.8,853.2 L592.3,853.3 L594.8,853.3 L597.3,853.2 L599.8,853.1 L602.3,853.0 L604.8,852.8 L607.2,852.5 L609.6,852.2 L612.1,851.8 L614.5,851.4 L616.9,850.9 L619.2,850.4 L621.6,849.8 L623.9,849.1 L626.3,848.4 L628.6,847.6 L630.9,846.7 L633.1,845.8 L635.4,844.9 L637.6,843.9 L639.9,842.8 L642.1,841.7 L644.3,840.5 L646.5,839.3 L648.6,838.1 L650.8,836.8 L652.9,835.4 L655.0,834.1 L657.1,832.6 L659.2,831.2 L661.2,829.7 L663.3,828.1 L665.3,826.6 L667.3,824.9 L669.3,823.3 L671.3,821.6 L673.3,820.0 L675.3,818.2 L677.2,816.5 L679.1,814.7 L681.0,812.9 L682.9,811.1 L684.8,809.2 L686.6,807.4 L688.5,805.5 L690.3,803.6 L692.1,801.7 L693.9,799.8 L695.7,797.8 L697.5,795.9 L699.2,793.9 L701.0,792.0 L702.7,790.0 L704.4,788.0 L706.1,786.1 L707.8,784.1 L709.4,782.1 L711.1,780.1 L712.7,778.1 L714.4,776.1 L716.0,774.2 L717.7,772.2 L719.3,770.2 L720.9,768.2 L722.6,766.2 L724.2,764.3 L725.9,762.3 L727.5,760.4 L729.2,758.4 L730.9,756.5 L732.5,754.6 L734.2,752.6 L735.9,750.7 L737.6,748.8 L739.4,747.0 L741.1,745.1 L742.9,743.3 L744.7,741.4 L746.5,739.6 L748.3,737.8 L750.2,736.0 L752.0,734.3 L753.9,732.5 L755.9,730.8 L757.8,729.1 L759.8,727.5 L761.9,725.8 L763.9,724.2 L766.0,722.6 L768.1,721.1 L770.3,719.5 L772.4,718.0 L774.6,716.6 L776.9,715.1 L779.1,713.7 L781.4,712.4 L783.6,711.1 L786.0,709.8 L788.3,708.5 L790.6,707.4 L793.0,706.2 L795.3,705.1 L797.7,704.0 L800.1,703.0 L802.5,702.1 L805.0,701.2 L807.4,700.3 L809.8,699.5 L812.3,698.8 L814.7,698.1 L817.2,697.5 L819.6,696.9 L822.1,696.4 L824.6,696.0 L827.0,695.6 L829.5,695.3 L832.0,695.0 L834.4,694.8 L836.9,694.6 L839.4,694.5 L841.9,694.4 L844.4,694.4 L846.9,694.5 L849.3,694.5 L851.8,694.7 L854.3,694.8 L856.8,695.0 L859.3,695.3 L861.8,695.5 L864.3,695.8 L866.8,696.2 L869.3,696.6 L871.8,697.0 L874.3,697.4 L876.8,697.9 L879.3,698.4 L881.8,698.9 L884.3,699.5 L886.8,700.0 L889.3,700.6 L891.8,701.3 L894.3,701.9 L896.8,702.5 L899.3,703.2 L901.8,703.9 L904.3,704.6 L906.8,705.3 L909.3,706.0 L911.8,706.7 L914.3,707.4 L916.7,708.1 L919.2,708.9 L921.7,709.6 L924.2,710.3 L926.7,711.1 L929.2,711.8 L931.7,712.5 L934.2,713.3 L936.7,714.0 L939.2,714.8 L941.6,715.5 L944.1,716.2 L946.6,717.0 L949.1,717.7 L951.6,718.5 L954.1,719.2 L956.5,720.0 L959.0,720.7 L961.5,721.5 L964.0,722.2 L966.5,723.0 L968.9,723.7 L971.4,724.4 L973.9,725.2 L976.4,725.9 L978.8,726.7 L981.3,727.4 L983.8,728.2 L986.3,728.9 L988.7,729.6 L991.2,730.4 L993.7,731.1 L996.2,731.8 L998.6,732.5 L1001.1,733.3 L1003.6,734.0 L1006.1,734.7 L1008.5,735.4 L1011.0,736.1 L1013.5,736.9 L1015.9,737.6 L1018.4,738.3 L1020.9,739.0 L1023.4,739.7 L1025.8,740.4 L1028.3,741.1 L1030.8,741.7 L1033.3,742.4 L1035.7,743.1 L1038.2,743.8 L1040.7,744.4 L1043.2,745.1 L1045.6,745.8 L1048.1,746.4 L1050.6,747.1 L1053.1,747.7 L1055.6,748.3 L1058.0,749.0 L1060.5,749.6 L1063.0,750.2 L1065.5,750.8 L1068.0,751.4 L1070.4,752.1 L1072.9,752.6 L1075.4,753.2 L1077.9,753.8 L1080.4,754.4 L1082.9,755.0 L1085.4,755.5 L1087.9,756.1 L1090.3,756.6 L1092.8,757.2 L1095.3,757.7 L1097.8,758.2 L1100.3,758.7 L1102.8,759.2 L1105.3,759.7 L1107.8,760.2 L1110.3,760.7 L1112.8,761.2 L1115.3,761.6 L1117.8,762.1 L1120.3,762.5 L1122.8,763.0 L1125.3,763.4 L1127.8,763.8 L1130.3,764.2 L1132.9,764.6 L1135.4,765.0 L1137.9,765.4 L1140.4,765.8 L1142.9,766.1 L1145.4,766.5 L1148.0,766.8 L1150.5,767.1 L1153.0,767.5 L1155.5,767.8 L1158.1,768.1 L1160.6,768.3 L1163.1,768.6 L1165.7,768.9 L1168.2,769.1 L1170.7,769.3 L1173.3,769.6 L1175.8,769.8 L1178.4,770.0 L1180.9,770.2 L1183.5,770.3 L1186.0,770.5 L1188.6,770.7 L1191.1,770.8 L1193.7,770.9 L1196.2,771.1 L1198.8,771.2 L1201.3,771.3 L1203.9,771.4 L1206.5,771.4 L1209.0,771.5 L1211.6,771.6 L1214.1,771.6 L1216.7,771.7 L1219.3,771.7 L1221.8,771.7 L1224.4,771.7 L1227.0,771.7 L1229.6,771.7 L1232.1,771.7 L1234.7,771.7 L1237.3,771.7 L1239.8,771.6 L1242.4,771.6 L1245.0,771.5 L1247.6,771.5 L1250.1,771.4 L1252.7,771.3 L1255.3,771.2 L1257.9,771.2 L1260.5,771.1 L1263.0,770.9 L1265.6,770.8 L1268.2,770.7 L1270.8,770.6 L1273.3,770.5 L1275.9,770.3 L1278.5,770.2 L1281.1,770.0 L1283.7,769.9 L1286.2,769.7 L1288.8,769.5 L1291.4,769.4 L1294.0,769.2 L1296.5,769.0 L1299.1,768.8 L1301.7,768.6 L1304.3,768.4 L1306.8,768.2 L1309.4,768.0 L1312.0,767.8 L1314.6,767.6 L1317.1,767.3 L1319.7,767.1 L1322.3,766.9 L1324.8,766.6 L1327.4,766.4 L1330.0,766.2 L1332.5,765.9 L1335.1,765.7 L1337.7,765.4 L1340.2,765.2 L1342.8,764.9 L1345.4,764.6 L1347.9,764.4 L1350.5,764.1 L1353.0,763.8 L1355.6,763.5 L1358.2,763.3 L1360.7,763.0 L1363.3,762.7 L1365.8,762.4 L1368.4,762.1 L1370.9,761.8 L1373.5,761.5 L1376.0,761.2 L1378.6,760.9 L1381.2,760.6 L1383.7,760.3 L1386.3,760.0 L1388.8,759.7 L1391.4,759.4 L1393.9,759.0 L1396.5,758.7 L1399.0,758.4 L1401.6,758.1 L1404.1,757.8 L1406.6,757.4 L1409.2,757.1 L1411.7,756.8 L1414.3,756.4 L1416.8,756.1 L1419.4,755.8 L1421.9,755.4 L1424.5,755.1 L1427.0,754.7 L1429.5,754.4 L1432.1,754.0 L1434.6,753.7 L1437.2,753.4 L1439.7,753.0 L1442.3,752.7 L1444.8,752.3 L1447.3,752.0 L1449.9,751.6 L1452.4,751.3 L1455.0,750.9 L1457.5,750.5 L1460.0,750.2 L1462.6,749.8 L1465.1,749.5 L1467.7,749.1 L1470.2,748.8 L1472.7,748.4 L1475.3,748.0 L1477.8,747.7 L1480.3,747.3 L1482.9,747.0 L1485.4,746.6 L1487.9,746.2 L1490.5,745.9 L1493.0,745.5 L1495.6,745.2 L1498.1,744.8 L1500.6,744.4 L1503.2,744.1 L1505.7,743.7 L1508.2,743.4 L1510.8,743.0 L1513.3,742.7 L1515.8,742.3 L1518.4,741.9 L1520.9,741.6 L1523.5,741.2 L1526.0,740.9 L1528.5,740.5 L1531.1,740.2 L1533.6,739.8 L1536.1,739.5 L1538.7,739.1 L1541.2,738.8 L1543.7,738.4 L1546.3,738.1 L1548.8,737.7 L1551.3,737.4 L1553.9,737.1 L1556.4,736.7 L1559.0,736.4 L1561.5,736.1 L1564.0,735.7 L1566.6,735.4 L1569.1,735.1 L1571.6,734.7 L1574.2,734.4 L1576.7,734.1 L1579.3,733.8 L1581.8,733.4 L1584.3,733.1 L1586.9,732.8 L1589.4,732.5 L1592.0,732.2 L1594.5,731.9 L1597.0,731.6 L1599.6,731.3 L1602.1,731.0 L1604.7,730.7 L1607.2,730.4 L1609.7,730.1 L1612.3,729.8 L1614.8,729.5 L1617.4,729.2 L1619.9,728.9 L1622.5,728.7 L1625.0,728.4 L1627.5,728.1 L1630.1,727.8 L1632.6,727.6 L1635.2,727.3 L1637.7,727.1 L1640.3,726.8 L1642.8,726.6 L1645.4,726.3 L1647.9,726.1 L1650.5,725.8 L1653.0,725.6 L1655.6,725.4 L1658.1,725.1 L1660.7,724.9 L1663.2,724.7 L1665.8,724.5 L1668.3,724.3 L1670.9,724.0 L1673.4,723.8 L1676.0,723.6 L1678.6,723.5 L1681.1,723.3 L1683.7,723.1 L1686.2,722.9 L1688.8,722.7 L1691.3,722.6 L1693.9,722.4 L1696.5,722.2 L1699.0,722.1 L1701.6,721.9 L1704.2,721.8 L1706.7,721.6 L1709.3,721.5 L1711.9,721.4 L1714.4,721.2 L1717.0,721.1 L1719.6,721.0 L1722.1,720.9 L1724.7,720.8 L1727.3,720.7 L1729.8,720.6 L1732.4,720.5 L1735.0,720.4 L1737.6,720.3 L1740.1,720.3 L1742.7,720.2 L1745.3,720.2 L1747.9,720.1 L1750.5,720.1 L1753.0,720.0 L1755.6,720.0 L1758.2,720.0 L1760.8,719.9 L1763.4,719.9 L1765.9,719.9 L1768.5,719.9 L1771.1,719.9" fill="none" stroke="#ff00ff" stroke-width="11.5" stroke-linejoin="round" stroke-linecap="round"/>
<path d="M312.6,577.5 L316.0,579.1 L319.4,580.8 L322.9,582.4 L326.3,584.1 L329.7,585.8 L333.1,587.4 L336.5,589.1 L339.9,590.7 L343.3,592.3 L346.7,594.0 L350.1,595.6 L353.5,597.2 L356.9,598.9 L360.3,600.5 L363.6,602.1 L367.0,603.7 L370.4,605.3 L373.8,606.8 L377.2,608.4 L380.6,610.0 L383.9,611.5 L387.3,613.1 L390.7,614.6 L394.1,616.1 L397.5,617.6 L400.9,619.0 L404.3,620.5 L407.7,622.0 L411.1,623.4 L414.6,624.8 L418.0,626.2 L421.4,627.6 L424.9,628.9 L428.3,630.2 L431.8,631.6 L435.2,632.8 L438.7,634.1 L442.2,635.4 L445.7,636.6 L449.2,637.8 L452.7,639.0 L456.2,640.1 L459.8,641.2 L463.3,642.3 L466.9,643.4 L470.5,644.4 L474.1,645.4 L477.7,646.4 L481.3,647.4 L484.9,648.3 L488.6,649.2 L492.2,650.0 L495.9,650.9 L499.6,651.7 L503.3,652.4 L507.1,653.1 L510.8,653.8 L514.6,654.5 L518.4,655.1 L522.2,655.7 L526.1,656.2 L529.9,656.7 L533.7,657.1 L537.6,657.4 L541.4,657.7 L545.3,657.9 L549.1,658.0 L552.8,657.9 L556.6,657.8 L560.3,657.5 L564.0,657.1 L567.6,656.6 L571.2,655.9 L574.7,655.0 L578.2,654.0 L581.6,652.8 L584.9,651.4 L588.1,649.8 L591.3,648.1 L594.4,646.2 L597.5,644.2 L600.4,642.0 L603.4,639.8 L606.2,637.4 L609.0,634.9 L611.8,632.3 L614.5,629.7 L617.1,627.0 L619.7,624.3 L622.3,621.6 L624.8,618.8 L627.3,615.9 L629.7,613.1 L632.1,610.2 L634.4,607.2 L636.7,604.3 L638.9,601.3 L641.1,598.2 L643.2,595.2 L645.3,592.1 L647.3,588.9 L649.3,585.8 L651.2,582.6 L653.0,579.4 L654.8,576.1 L656.6,572.9 L658.2,569.6 L659.9,566.2 L661.4,562.9 L662.9,559.5 L664.3,556.1 L665.7,552.7 L667.0,549.3 L668.3,545.8 L669.5,542.3 L670.7,538.8 L671.8,535.3 L672.9,531.8 L673.9,528.2 L675.0,524.7 L676.0,521.1 L677.0,517.5 L677.9,513.9 L678.9,510.4 L679.9,506.8 L680.8,503.2 L681.8,499.6 L682.8,496.0 L683.7,492.4 L684.8,488.8 L685.8,485.2 L686.8,481.7 L687.9,478.1 L689.0,474.5 L690.1,471.0 L691.2,467.4 L692.3,463.9 L693.5,460.3 L694.6,456.8 L695.8,453.2 L696.9,449.7 L698.1,446.1 L699.3,442.6 L700.5,439.0 L701.7,435.5 L702.8,431.9 L704.0,428.4 L705.2,424.8 L706.3,421.3 L707.5,417.7 L708.7,414.1 L709.8,410.6 L710.9,407.0 L712.1,403.4 L713.2,399.8 L714.3,396.2 L715.4,392.7 L716.5,389.1 L717.7,385.5 L718.8,381.9 L719.9,378.3 L721.0,374.7 L722.1,371.1 L723.2,367.5 L724.3,363.9 L725.4,360.3 L726.5,356.7 L727.6,353.1 L728.7,349.5 L729.8,346.0 L730.9,342.4 L732.0,338.8 L733.1,335.2 L734.2,331.6 L735.4,328.0 L736.5,324.5 L737.6,320.9 L738.8,317.3 L739.9,313.8 L741.1,310.2 L742.3,306.7 L743.4,303.1 L744.6,299.6 L745.8,296.0 L747.0,292.5 L748.2,289.0 L749.5,285.5 L750.7,281.9 L752.0,278.4 L753.2,274.9 L754.5,271.5 L755.8,268.0 L757.1,264.5 L758.4,261.0 L759.8,257.6 L761.1,254.1 L762.5,250.7 L763.9,247.3 L765.3,243.8 L766.7,240.4 L768.2,237.0 L769.6,233.7 L771.1,230.3 L772.6,226.9 L774.1,223.6 L775.7,220.2 L777.2,216.9 L778.9,213.6 L780.6,210.3 L782.3,207.1 L784.2,203.8 L786.1,200.6 L788.2,197.5 L790.4,194.4 L792.7,191.4 L795.2,188.4 L797.8,185.6 L800.5,182.9 L803.4,180.4 L806.4,178.1 L809.6,175.9 L812.8,173.9 L816.2,172.2 L819.6,170.8 L823.1,169.6 L826.6,168.7 L830.2,168.2 L833.7,168.0 L837.3,168.2 L840.7,168.7 L844.2,169.7 L847.6,171.0 L850.9,172.6 L854.2,174.4 L857.4,176.3 L860.6,178.4 L863.7,180.5 L866.7,182.7 L869.7,184.9 L872.7,187.2 L875.5,189.5 L878.4,191.9 L881.2,194.4 L884.0,196.8 L886.7,199.4 L889.4,201.9 L892.0,204.6 L894.6,207.2 L897.2,209.9 L899.7,212.6 L902.2,215.4 L904.7,218.1 L907.2,220.9 L909.6,223.8 L912.0,226.6 L914.4,229.5 L916.8,232.4 L919.2,235.3 L921.5,238.3 L923.8,241.2 L926.1,244.2 L928.4,247.1 L930.7,250.1 L933.0,253.1 L935.3,256.1 L937.6,259.1 L939.9,262.1 L942.2,265.0 L944.5,268.0 L946.8,271.0 L949.1,274.0 L951.4,276.9 L953.8,279.9 L956.1,282.8 L958.5,285.7 L960.8,288.7 L963.2,291.6 L965.6,294.5 L967.9,297.4 L970.3,300.2 L972.8,303.1 L975.2,306.0 L977.6,308.8 L980.0,311.7 L982.5,314.5 L984.9,317.3 L987.4,320.2 L989.8,323.0 L992.3,325.8 L994.8,328.6 L997.3,331.4 L999.8,334.2 L1002.3,336.9 L1004.8,339.7 L1007.3,342.5 L1009.8,345.2 L1012.4,348.0 L1014.9,350.7 L1017.4,353.4 L1020.0,356.2 L1022.5,358.9 L1025.1,361.6 L1027.7,364.3 L1030.2,367.0 L1032.8,369.7 L1035.4,372.4 L1038.0,375.1 L1040.6,377.8 L1043.2,380.5 L1045.8,383.2 L1048.4,385.8 L1051.0,388.5 L1053.6,391.2 L1056.2,393.8 L1058.8,396.5 L1061.4,399.1 L1064.1,401.8 L1066.7,404.4 L1069.3,407.1 L1072.0,409.7 L1074.6,412.4 L1077.3,415.0 L1079.9,417.6 L1082.6,420.3 L1085.2,422.9 L1087.9,425.5 L1090.5,428.1 L1093.2,430.8 L1095.8,433.4 L1098.5,436.0 L1101.1,438.6 L1103.8,441.2 L1106.5,443.9 L1109.1,446.5 L1111.8,449.1 L1114.5,451.7 L1117.1,454.3 L1119.8,456.9 L1122.5,459.6 L1125.1,462.2 L1127.8,464.8 L1130.5,467.4 L1133.1,470.0 L1135.8,472.6 L1138.5,475.3 L1141.1,477.9 L1143.8,480.5 L1146.4,483.1 L1149.1,485.8 L1151.8,488.4 L1154.4,491.0 L1157.1,493.6 L1159.7,496.3 L1162.4,498.9 L1165.0,501.6 L1167.6,504.2 L1170.3,506.9 L1172.9,509.5 L1175.5,512.2 L1178.1,514.9 L1180.7,517.6 L1183.3,520.2 L1185.9,522.9 L1188.4,525.7 L1191.0,528.4 L1193.5,531.1 L1196.0,533.8 L1198.6,536.6 L1201.0,539.4 L1203.5,542.1 L1206.0,544.9 L1208.5,547.7 L1210.9,550.5 L1213.3,553.3 L1215.8,556.1 L1218.2,559.0 L1220.7,561.8 L1223.1,564.6 L1225.6,567.4 L1228.0,570.2 L1230.5,572.9 L1233.0,575.7 L1235.5,578.5 L1238.0,581.2 L1240.5,584.0 L1243.0,586.7 L1245.6,589.4 L1248.1,592.2 L1250.6,594.9 L1253.2,597.7 L1255.7,600.4 L1258.2,603.1 L1260.7,605.9 L1263.2,608.7 L1265.7,611.5 L1268.1,614.3 L1270.6,617.1 L1273.0,619.9 L1275.4,622.8 L1277.7,625.7 L1280.1,628.6 L1282.4,631.5 L1284.7,634.4 L1287.0,637.4 L1289.3,640.3 L1291.5,643.3 L1293.8,646.3 L1296.0,649.3 L1298.2,652.3 L1300.4,655.3 L1302.6,658.3 L1304.8,661.4 L1307.0,664.4 L1309.2,667.4 L1311.3,670.5 L1313.5,673.5 L1315.7,676.6 L1317.8,679.7 L1320.0,682.7 L1322.1,685.8 L1324.3,688.8 L1326.4,691.9 L1328.6,695.0 L1330.7,698.0 L1332.8,701.1 L1335.0,704.2 L1337.1,707.2 L1339.3,710.3 L1341.4,713.4 L1343.5,716.5 L1345.7,719.5 L1347.8,722.6 L1349.9,725.7 L1352.1,728.8 L1354.2,731.8 L1356.3,734.9 L1358.4,738.0 L1360.6,741.1 L1362.7,744.1 L1364.8,747.2 L1366.9,750.3 L1369.1,753.4 L1371.2,756.5 L1373.3,759.5 L1375.4,762.6 L1377.6,765.7 L1379.7,768.8 L1381.8,771.8 L1383.9,774.9 L1386.1,778.0 L1388.2,781.1 L1390.3,784.1 L1392.4,787.2 L1394.6,790.3 L1396.7,793.4 L1398.8,796.4 L1401.0,799.5 L1403.1,802.6 L1405.3,805.6 L1407.4,808.7 L1409.5,811.8 L1411.7,814.8 L1413.8,817.9 L1416.0,820.9 L1418.1,824.0 L1420.3,827.1 L1422.4,830.1 L1424.6,833.2 L1426.7,836.2 L1428.9,839.3 L1431.1,842.3 L1433.2,845.3 L1435.4,848.4 L1437.6,851.4 L1439.8,854.5 L1441.9,857.5 L1444.1,860.5 L1446.3,863.5 L1448.5,866.6 L1450.7,869.6 L1452.9,872.6 L1455.1,875.6 L1457.3,878.6 L1459.5,881.7 L1461.7,884.7 L1464.0,887.7 L1466.2,890.7 L1468.4,893.7 L1470.6,896.7 L1472.9,899.6 L1475.1,902.6 L1477.4,905.6 L1479.6,908.6 L1481.9,911.6 L1484.2,914.5 L1486.4,917.5 L1488.7,920.5 L1491.0,923.4 L1493.3,926.4 L1495.6,929.3 L1497.9,932.3 L1500.2,935.2 L1502.5,938.1 L1504.8,941.1 L1507.1,944.0 L1509.5,946.9 L1511.8,949.8 L1514.1,952.7 L1516.5,955.6 L1518.8,958.5 L1521.2,961.4 L1523.6,964.3 L1526.0,967.2 L1528.3,970.1 L1530.7,973.0 L1533.1,975.8 L1535.5,978.7 L1538.0,981.5 L1540.4,984.4 L1542.8,987.2 L1545.3,990.1 L1547.7,992.9 L1550.2,995.7 L1552.6,998.5 L1555.1,1001.4 L1557.6,1004.2 L1560.1,1007.0 L1562.6,1009.8 L1565.1,1012.6 L1567.6,1015.3 L1570.1,1018.1 L1572.7,1020.9 L1575.2,1023.6 L1577.8,1026.4 L1580.3,1029.1 L1582.9,1031.8 L1585.5,1034.6 L1588.1,1037.3 L1590.7,1040.0 L1593.3,1042.7 L1595.9,1045.4 L1598.6,1048.0 L1601.2,1050.7 L1603.9,1053.3 L1606.5,1056.0 L1609.2,1058.6 L1611.9,1061.2 L1614.6,1063.8 L1617.3,1066.4 L1620.0,1069.0 L1622.8,1071.5 L1625.5,1074.0 L1628.3,1076.6 L1631.1,1079.1 L1633.8,1081.6 L1636.6,1084.1 L1639.5,1086.5 L1642.3,1089.0 L1645.1,1091.4 L1648.0,1093.8 L1650.8,1096.2 L1653.7,1098.6 L1656.6,1100.9 L1659.5,1103.3 L1662.4,1105.6 L1665.4,1107.9 L1668.3,1110.2 L1671.3,1112.4 L1674.2,1114.7 L1677.2,1116.9 L1680.2,1119.1 L1683.3,1121.3 L1686.3,1123.4 L1689.3,1125.6 L1692.4,1127.7 L1695.5,1129.8 L1698.6,1131.8 L1701.7,1133.9 L1704.8,1135.9 L1708.0,1137.9 L1711.1,1139.8 L1714.3,1141.8 L1717.5,1143.7 L1720.7,1145.6 L1723.9,1147.5 L1727.2,1149.3 L1730.4,1151.1 L1733.7,1152.9 L1737.0,1154.7 L1740.3,1156.4 L1743.6,1158.1 L1747.0,1159.8 L1750.3,1161.4 L1753.7,1163.0 L1757.1,1164.6 L1760.5,1166.2 L1764.0,1167.7 L1767.4,1169.2 L1770.9,1170.7" fill="none" stroke="#808000" stroke-width="11.5" stroke-linejoin="round" stroke-linecap="round"/>
<path d="M313.1,741.7 L315.6,742.9 L318.2,744.1 L320.8,745.2 L323.4,746.3 L325.9,747.4 L328.5,748.4 L331.0,749.4 L333.6,750.4 L336.1,751.4 L338.7,752.4 L341.2,753.3 L343.8,754.3 L346.3,755.2 L348.8,756.0 L351.4,756.9 L353.9,757.8 L356.4,758.6 L358.9,759.4 L361.5,760.2 L364.0,761.0 L366.5,761.8 L369.0,762.6 L371.5,763.3 L374.0,764.1 L376.5,764.8 L379.1,765.5 L381.6,766.2 L384.1,766.9 L386.6,767.6 L389.1,768.3 L391.6,769.0 L394.1,769.7 L396.6,770.4 L399.1,771.0 L401.6,771.7 L404.1,772.4 L406.6,773.0 L409.1,773.7 L411.6,774.4 L414.1,775.0 L416.6,775.7 L419.2,776.4 L421.7,777.0 L424.2,777.7 L426.7,778.4 L429.2,779.0 L431.7,779.7 L434.2,780.4 L436.7,781.1 L439.3,781.8 L441.8,782.5 L444.3,783.2 L446.8,784.0 L449.4,784.7 L451.9,785.5 L454.4,786.2 L456.9,787.0 L459.5,787.8 L462.0,788.6 L464.6,789.4 L467.1,790.2 L469.7,791.1 L472.2,791.9 L474.8,792.8 L477.3,793.7 L479.9,794.5 L482.4,795.4 L485.0,796.3 L487.6,797.1 L490.1,798.0 L492.7,798.9 L495.3,799.8 L497.9,800.6 L500.4,801.5 L503.0,802.3 L505.6,803.2 L508.2,804.0 L510.8,804.8 L513.4,805.7 L516.0,806.5 L518.6,807.2 L521.2,808.0 L523.8,808.7 L526.4,809.5 L529.0,810.2 L531.6,810.8 L534.2,811.5 L536.8,812.1 L539.4,812.7 L542.0,813.3 L544.7,813.8 L547.3,814.4 L549.9,814.8 L552.5,815.3 L555.1,815.7 L557.8,816.1 L560.4,816.4 L563.0,816.7 L565.7,816.9 L568.3,817.2 L570.9,817.3 L573.6,817.4 L576.2,817.5 L578.8,817.5 L581.5,817.5 L584.1,817.5 L586.8,817.3 L589.4,817.1 L592.1,816.9 L594.7,816.6 L597.3,816.3 L599.9,815.9 L602.5,815.5 L605.1,815.0 L607.7,814.4 L610.3,813.8 L612.9,813.1 L615.4,812.4 L617.9,811.6 L620.4,810.8 L622.8,809.9 L625.3,809.0 L627.7,808.0 L630.1,806.9 L632.4,805.8 L634.7,804.6 L637.0,803.4 L639.3,802.1 L641.5,800.7 L643.6,799.3 L645.8,797.9 L647.8,796.3 L649.9,794.7 L651.9,793.1 L653.8,791.4 L655.7,789.6 L657.5,787.8 L659.3,785.9 L661.0,783.9 L662.7,781.9 L664.3,779.8 L665.9,777.7 L667.4,775.5 L668.9,773.3 L670.3,771.0 L671.7,768.7 L673.1,766.4 L674.5,764.1 L675.8,761.7 L677.1,759.3 L678.5,756.9 L679.8,754.5 L681.1,752.1 L682.4,749.7 L683.7,747.4 L685.0,745.0 L686.4,742.6 L687.7,740.3 L689.1,738.0 L690.5,735.7 L691.9,733.5 L693.3,731.2 L694.8,729.0 L696.2,726.8 L697.7,724.6 L699.2,722.4 L700.6,720.3 L702.1,718.1 L703.6,716.0 L705.2,713.8 L706.7,711.7 L708.2,709.5 L709.7,707.4 L711.2,705.3 L712.7,703.1 L714.3,701.0 L715.8,698.8 L717.3,696.7 L718.8,694.5 L720.3,692.3 L721.7,690.1 L723.2,687.9 L724.7,685.7 L726.2,683.5 L727.7,681.2 L729.1,679.0 L730.7,676.8 L732.2,674.6 L733.7,672.5 L735.3,670.3 L736.8,668.1 L738.5,666.0 L740.1,663.9 L741.8,661.9 L743.5,659.8 L745.2,657.8 L747.0,655.9 L748.8,653.9 L750.7,652.0 L752.6,650.2 L754.6,648.4 L756.6,646.7 L758.6,645.0 L760.7,643.3 L762.8,641.7 L765.0,640.1 L767.2,638.6 L769.4,637.1 L771.7,635.7 L774.0,634.4 L776.3,633.0 L778.6,631.8 L781.0,630.5 L783.4,629.4 L785.8,628.3 L788.3,627.2 L790.7,626.2 L793.2,625.2 L795.7,624.3 L798.2,623.5 L800.7,622.7 L803.3,621.9 L805.8,621.3 L808.3,620.6 L810.9,620.1 L813.5,619.5 L816.0,619.1 L818.6,618.7 L821.2,618.4 L823.7,618.1 L826.3,617.9 L828.9,617.7 L831.5,617.6 L834.0,617.5 L836.6,617.5 L839.2,617.5 L841.8,617.6 L844.4,617.7 L846.9,617.9 L849.5,618.1 L852.1,618.4 L854.7,618.7 L857.3,619.0 L859.8,619.4 L862.4,619.8 L865.0,620.2 L867.6,620.7 L870.2,621.2 L872.8,621.7 L875.4,622.2 L877.9,622.8 L880.5,623.4 L883.1,624.0 L885.7,624.6 L888.3,625.3 L890.9,625.9 L893.5,626.6 L896.1,627.3 L898.7,628.0 L901.3,628.8 L903.9,629.5 L906.5,630.2 L909.1,631.0 L911.7,631.7 L914.3,632.4 L916.9,633.2 L919.5,633.9 L922.1,634.7 L924.7,635.4 L927.3,636.2 L929.9,636.9 L932.5,637.6 L935.2,638.3 L937.8,639.0 L940.4,639.7 L943.0,640.3 L945.6,641.0 L948.2,641.6 L950.8,642.2 L953.5,642.8 L956.1,643.4 L958.7,643.9 L961.3,644.4 L964.0,644.9 L966.6,645.4 L969.2,645.8 L971.8,646.2 L974.5,646.5 L977.1,646.9 L979.7,647.2 L982.4,647.4 L985.0,647.7 L987.6,647.9 L990.3,648.1 L992.9,648.2 L995.5,648.3 L998.2,648.4 L1000.8,648.5 L1003.4,648.6 L1006.1,648.6 L1008.7,648.6 L1011.3,648.5 L1014.0,648.5 L1016.6,648.4 L1019.3,648.3 L1021.9,648.2 L1024.5,648.0 L1027.2,647.9 L1029.8,647.7 L1032.4,647.5 L1035.1,647.2 L1037.7,647.0 L1040.4,646.7 L1043.0,646.4 L1045.6,646.1 L1048.3,645.8 L1050.9,645.5 L1053.5,645.1 L1056.2,644.7 L1058.8,644.3 L1061.4,643.9 L1064.1,643.5 L1066.7,643.1 L1069.3,642.6 L1071.9,642.1 L1074.6,641.7 L1077.2,641.2 L1079.8,640.7 L1082.4,640.2 L1085.1,639.6 L1087.7,639.1 L1090.3,638.6 L1092.9,638.0 L1095.5,637.4 L1098.1,636.9 L1100.7,636.3 L1103.3,635.7 L1105.9,635.1 L1108.6,634.5 L1111.2,633.9 L1113.8,633.3 L1116.3,632.7 L1118.9,632.0 L1121.5,631.4 L1124.1,630.8 L1126.7,630.2 L1129.3,629.5 L1131.9,628.9 L1134.5,628.2 L1137.0,627.6 L1139.6,626.9 L1142.2,626.3 L1144.8,625.6 L1147.3,624.9 L1149.9,624.3 L1152.5,623.6 L1155.0,622.9 L1157.6,622.2 L1160.2,621.5 L1162.7,620.9 L1165.3,620.2 L1167.8,619.5 L1170.4,618.8 L1172.9,618.1 L1175.5,617.4 L1178.0,616.7 L1180.6,616.0 L1183.1,615.2 L1185.7,614.5 L1188.2,613.8 L1190.8,613.1 L1193.3,612.3 L1195.9,611.6 L1198.4,610.9 L1201.0,610.1 L1203.5,609.4 L1206.0,608.7 L1208.6,607.9 L1211.1,607.2 L1213.6,606.4 L1216.2,605.7 L1218.7,604.9 L1221.2,604.1 L1223.8,603.4 L1226.3,602.6 L1228.8,601.8 L1231.4,601.1 L1233.9,600.3 L1236.4,599.5 L1239.0,598.7 L1241.5,598.0 L1244.0,597.2 L1246.5,596.4 L1249.1,595.6 L1251.6,594.8 L1254.1,594.0 L1256.7,593.2 L1259.2,592.4 L1261.7,591.6 L1264.2,590.8 L1266.8,590.0 L1269.3,589.2 L1271.8,588.4 L1274.4,587.6 L1276.9,586.7 L1279.4,585.9 L1282.0,585.1 L1284.5,584.3 L1287.0,583.5 L1289.5,582.7 L1292.1,581.8 L1294.6,581.0 L1297.1,580.2 L1299.7,579.4 L1302.2,578.6 L1304.7,577.7 L1307.3,576.9 L1309.8,576.1 L1312.3,575.3 L1314.9,574.5 L1317.4,573.7 L1320.0,572.9 L1322.5,572.0 L1325.0,571.2 L1327.6,570.4 L1330.1,569.6 L1332.7,568.8 L1335.2,568.0 L1337.7,567.3 L1340.3,566.5 L1342.8,565.7 L1345.4,564.9 L1347.9,564.1 L1350.5,563.4 L1353.0,562.6 L1355.6,561.8 L1358.1,561.1 L1360.7,560.3 L1363.2,559.6 L1365.8,558.9 L1368.4,558.1 L1370.9,557.4 L1373.5,556.7 L1376.0,556.0 L1378.6,555.3 L1381.2,554.6 L1383.7,553.9 L1386.3,553.2 L1388.9,552.5 L1391.4,551.9 L1394.0,551.2 L1396.6,550.6 L1399.1,549.9 L1401.7,549.3 L1404.3,548.7 L1406.9,548.1 L1409.5,547.5 L1412.0,546.9 L1414.6,546.3 L1417.2,545.7 L1419.8,545.2 L1422.4,544.6 L1425.0,544.1 L1427.6,543.5 L1430.2,543.0 L1432.8,542.5 L1435.4,542.0 L1438.0,541.5 L1440.6,541.1 L1443.2,540.6 L1445.8,540.2 L1448.4,539.7 L1451.0,539.3 L1453.6,538.9 L1456.2,538.5 L1458.8,538.1 L1461.5,537.8 L1464.1,537.4 L1466.7,537.1 L1469.3,536.8 L1472.0,536.5 L1474.6,536.2 L1477.2,535.9 L1479.9,535.6 L1482.5,535.4 L1485.2,535.2 L1487.8,534.9 L1490.5,534.8 L1493.1,534.6 L1495.8,534.4 L1498.4,534.3 L1501.1,534.1 L1503.7,534.0 L1506.4,533.9 L1509.0,533.9 L1511.7,533.8 L1514.4,533.7 L1517.0,533.7 L1519.7,533.7 L1522.4,533.7 L1525.1,533.8 L1527.7,533.8 L1530.4,533.9 L1533.1,533.9 L1535.7,534.0 L1538.4,534.1 L1541.1,534.3 L1543.7,534.4 L1546.4,534.6 L1549.1,534.8 L1551.8,535.0 L1554.4,535.2 L1557.1,535.4 L1559.7,535.7 L1562.4,536.0 L1565.1,536.3 L1567.7,536.6 L1570.4,536.9 L1573.0,537.3 L1575.7,537.6 L1578.3,538.0 L1581.0,538.4 L1583.6,538.8 L1586.2,539.3 L1588.9,539.7 L1591.5,540.2 L1594.1,540.7 L1596.7,541.2 L1599.4,541.8 L1602.0,542.3 L1604.6,542.9 L1607.2,543.5 L1609.8,544.1 L1612.4,544.7 L1614.9,545.4 L1617.5,546.1 L1620.1,546.7 L1622.7,547.5 L1625.2,548.2 L1627.8,548.9 L1630.3,549.7 L1632.9,550.5 L1635.4,551.3 L1637.9,552.1 L1640.5,553.0 L1643.0,553.8 L1645.5,554.7 L1648.0,555.6 L1650.5,556.5 L1652.9,557.5 L1655.4,558.4 L1657.9,559.4 L1660.3,560.4 L1662.8,561.4 L1665.2,562.5 L1667.6,563.6 L1670.1,564.6 L1672.5,565.7 L1674.9,566.9 L1677.3,568.0 L1679.6,569.2 L1682.0,570.3 L1684.4,571.5 L1686.8,572.7 L1689.1,573.9 L1691.5,575.2 L1693.8,576.4 L1696.2,577.6 L1698.5,578.9 L1700.9,580.1 L1703.2,581.4 L1705.5,582.6 L1707.9,583.9 L1710.2,585.1 L1712.6,586.3 L1714.9,587.6 L1717.3,588.8 L1719.6,590.0 L1722.0,591.3 L1724.3,592.5 L1726.7,593.7 L1729.1,594.8 L1731.4,596.0 L1733.8,597.2 L1736.2,598.3 L1738.6,599.4 L1741.0,600.5 L1743.5,601.6 L1745.9,602.6 L1748.3,603.6 L1750.8,604.6 L1753.3,605.6 L1755.7,606.6 L1758.2,607.5 L1760.8,608.4 L1763.3,609.2 L1765.8,610.0 L1768.4,610.8 L1771.0,611.5" fill="none" stroke="#000080" stroke-width="11.5" stroke-linejoin="round" stroke-linecap="round"/>
<path d="M313.0,724.5 L315.3,725.7 L317.7,726.8 L320.1,727.9 L322.4,728.9 L324.8,730.0 L327.2,731.0 L329.5,732.0 L331.9,733.0 L334.3,734.0 L336.6,735.0 L339.0,735.9 L341.4,736.8 L343.8,737.7 L346.1,738.6 L348.5,739.5 L350.9,740.4 L353.3,741.2 L355.7,742.1 L358.1,742.9 L360.5,743.7 L362.9,744.5 L365.2,745.3 L367.6,746.0 L370.0,746.8 L372.4,747.5 L374.8,748.2 L377.2,748.9 L379.7,749.6 L382.1,750.3 L384.5,751.0 L386.9,751.7 L389.3,752.3 L391.7,753.0 L394.1,753.6 L396.5,754.2 L399.0,754.8 L401.4,755.4 L403.8,756.0 L406.2,756.6 L408.7,757.1 L411.1,757.7 L413.5,758.2 L416.0,758.8 L418.4,759.3 L420.8,759.8 L423.3,760.4 L425.7,760.9 L428.2,761.4 L430.6,761.9 L433.0,762.3 L435.5,762.8 L437.9,763.3 L440.4,763.8 L442.9,764.2 L445.3,764.7 L447.8,765.1 L450.2,765.6 L452.7,766.0 L455.2,766.4 L457.6,766.9 L460.1,767.3 L462.6,767.7 L465.0,768.1 L467.5,768.5 L470.0,768.9 L472.5,769.3 L475.0,769.7 L477.4,770.1 L479.9,770.5 L482.4,770.9 L484.9,771.3 L487.4,771.7 L489.9,772.1 L492.4,772.5 L494.9,772.9 L497.4,773.2 L499.9,773.6 L502.4,774.0 L504.9,774.4 L507.4,774.8 L509.9,775.2 L512.5,775.6 L515.0,775.9 L517.5,776.3 L520.0,776.7 L522.5,777.1 L525.1,777.5 L527.6,777.9 L530.1,778.3 L532.7,778.7 L535.2,779.0 L537.7,779.4 L540.3,779.8 L542.8,780.1 L545.3,780.5 L547.9,780.8 L550.4,781.2 L552.9,781.5 L555.5,781.8 L558.0,782.1 L560.5,782.4 L563.1,782.7 L565.6,782.9 L568.1,783.1 L570.7,783.4 L573.2,783.6 L575.7,783.7 L578.2,783.9 L580.8,784.0 L583.3,784.1 L585.8,784.2 L588.3,784.3 L590.8,784.3 L593.3,784.3 L595.8,784.3 L598.3,784.2 L600.8,784.1 L603.3,784.0 L605.8,783.9 L608.3,783.7 L610.8,783.5 L613.3,783.2 L615.7,782.9 L618.2,782.6 L620.7,782.2 L623.1,781.8 L625.6,781.4 L628.0,780.9 L630.4,780.4 L632.9,779.8 L635.3,779.2 L637.7,778.5 L640.1,777.8 L642.5,777.0 L644.9,776.3 L647.3,775.4 L649.7,774.5 L652.0,773.6 L654.3,772.7 L656.6,771.7 L658.9,770.6 L661.2,769.6 L663.5,768.4 L665.7,767.3 L667.9,766.1 L670.1,764.8 L672.3,763.6 L674.5,762.2 L676.6,760.9 L678.7,759.5 L680.8,758.1 L682.9,756.7 L684.9,755.2 L687.0,753.8 L689.0,752.3 L691.0,750.8 L693.1,749.3 L695.0,747.7 L697.0,746.2 L699.0,744.6 L700.9,743.0 L702.9,741.4 L704.8,739.7 L706.7,738.1 L708.5,736.4 L710.4,734.6 L712.2,732.9 L714.1,731.1 L715.9,729.4 L717.7,727.6 L719.5,725.8 L721.3,724.0 L723.2,722.2 L725.0,720.5 L726.8,718.7 L728.7,717.0 L730.6,715.3 L732.5,713.7 L734.5,712.1 L736.4,710.5 L738.4,708.9 L740.4,707.4 L742.4,705.9 L744.5,704.4 L746.5,702.9 L748.6,701.5 L750.7,700.1 L752.8,698.8 L755.0,697.4 L757.1,696.1 L759.3,694.9 L761.5,693.6 L763.7,692.4 L765.9,691.2 L768.2,690.0 L770.4,688.9 L772.7,687.8 L775.0,686.7 L777.2,685.6 L779.5,684.6 L781.9,683.6 L784.2,682.6 L786.5,681.7 L788.9,680.7 L791.2,679.8 L793.6,678.9 L796.0,678.1 L798.3,677.3 L800.7,676.4 L803.1,675.7 L805.5,674.9 L807.9,674.1 L810.4,673.4 L812.8,672.7 L815.2,672.1 L817.6,671.4 L820.1,670.8 L822.5,670.2 L824.9,669.6 L827.4,669.0 L829.8,668.5 L832.3,668.0 L834.7,667.5 L837.2,667.0 L839.6,666.5 L842.1,666.1 L844.5,665.7 L847.0,665.3 L849.5,664.9 L851.9,664.5 L854.4,664.2 L856.9,663.9 L859.4,663.6 L861.8,663.3 L864.3,663.0 L866.8,662.8 L869.3,662.5 L871.8,662.3 L874.3,662.1 L876.7,662.0 L879.2,661.8 L881.7,661.7 L884.2,661.5 L886.7,661.4 L889.2,661.3 L891.7,661.3 L894.2,661.2 L896.7,661.2 L899.2,661.2 L901.7,661.1 L904.2,661.2 L906.7,661.2 L909.3,661.2 L911.8,661.3 L914.3,661.3 L916.8,661.4 L919.3,661.5 L921.8,661.6 L924.3,661.8 L926.8,661.9 L929.4,662.1 L931.9,662.2 L934.4,662.4 L936.9,662.6 L939.4,662.8 L941.9,663.0 L944.5,663.3 L947.0,663.5 L949.5,663.8 L952.0,664.1 L954.5,664.4 L957.0,664.6 L959.6,665.0 L962.1,665.3 L964.6,665.6 L967.1,665.9 L969.6,666.3 L972.2,666.7 L974.7,667.0 L977.2,667.4 L979.7,667.8 L982.2,668.2 L984.7,668.6 L987.2,669.1 L989.7,669.5 L992.3,669.9 L994.8,670.4 L997.3,670.9 L999.8,671.3 L1002.3,671.8 L1004.8,672.3 L1007.3,672.8 L1009.8,673.3 L1012.3,673.8 L1014.8,674.3 L1017.3,674.8 L1019.8,675.4 L1022.3,675.9 L1024.8,676.5 L1027.3,677.0 L1029.8,677.6 L1032.3,678.1 L1034.7,678.7 L1037.2,679.3 L1039.7,679.9 L1042.2,680.5 L1044.7,681.1 L1047.1,681.7 L1049.6,682.3 L1052.1,682.9 L1054.6,683.5 L1057.0,684.1 L1059.5,684.8 L1061.9,685.4 L1064.4,686.0 L1066.9,686.7 L1069.3,687.3 L1071.8,687.9 L1074.2,688.6 L1076.7,689.2 L1079.1,689.9 L1081.5,690.5 L1084.0,691.2 L1086.4,691.9 L1088.8,692.5 L1091.3,693.2 L1093.7,693.9 L1096.1,694.5 L1098.5,695.2 L1101.0,695.9 L1103.4,696.5 L1105.8,697.2 L1108.2,697.9 L1110.6,698.6 L1113.1,699.2 L1115.5,699.9 L1117.9,700.6 L1120.3,701.2 L1122.7,701.9 L1125.1,702.6 L1127.5,703.3 L1130.0,703.9 L1132.4,704.6 L1134.8,705.3 L1137.2,705.9 L1139.6,706.6 L1142.0,707.2 L1144.4,707.9 L1146.8,708.6 L1149.2,709.2 L1151.7,709.9 L1154.1,710.5 L1156.5,711.2 L1158.9,711.8 L1161.3,712.4 L1163.7,713.1 L1166.1,713.7 L1168.6,714.3 L1171.0,715.0 L1173.4,715.6 L1175.8,716.2 L1178.2,716.8 L1180.7,717.4 L1183.1,718.0 L1185.5,718.6 L1188.0,719.2 L1190.4,719.7 L1192.8,720.3 L1195.3,720.9 L1197.7,721.4 L1200.1,722.0 L1202.6,722.5 L1205.0,723.1 L1207.5,723.6 L1209.9,724.1 L1212.4,724.7 L1214.9,725.2 L1217.3,725.7 L1219.8,726.2 L1222.3,726.7 L1224.7,727.1 L1227.2,727.6 L1229.7,728.1 L1232.2,728.5 L1234.6,729.0 L1237.1,729.4 L1239.6,729.8 L1242.1,730.3 L1244.6,730.7 L1247.1,731.1 L1249.6,731.5 L1252.1,731.8 L1254.6,732.2 L1257.1,732.6 L1259.6,732.9 L1262.1,733.3 L1264.6,733.6 L1267.2,734.0 L1269.7,734.3 L1272.2,734.6 L1274.7,734.9 L1277.2,735.2 L1279.7,735.5 L1282.2,735.7 L1284.8,736.0 L1287.3,736.3 L1289.8,736.5 L1292.3,736.7 L1294.8,737.0 L1297.4,737.2 L1299.9,737.4 L1302.4,737.6 L1304.9,737.8 L1307.5,738.0 L1310.0,738.1 L1312.5,738.3 L1315.0,738.4 L1317.5,738.6 L1320.1,738.7 L1322.6,738.8 L1325.1,738.9 L1327.6,739.0 L1330.1,739.1 L1332.7,739.2 L1335.2,739.3 L1337.7,739.4 L1340.2,739.4 L1342.7,739.5 L1345.3,739.5 L1347.8,739.5 L1350.3,739.6 L1352.8,739.6 L1355.3,739.6 L1357.9,739.6 L1360.4,739.6 L1362.9,739.6 L1365.4,739.5 L1367.9,739.5 L1370.5,739.5 L1373.0,739.4 L1375.5,739.4 L1378.0,739.3 L1380.5,739.3 L1383.1,739.2 L1385.6,739.1 L1388.1,739.0 L1390.6,738.9 L1393.1,738.8 L1395.6,738.7 L1398.2,738.6 L1400.7,738.5 L1403.2,738.4 L1405.7,738.2 L1408.2,738.1 L1410.7,738.0 L1413.3,737.8 L1415.8,737.6 L1418.3,737.5 L1420.8,737.3 L1423.3,737.1 L1425.8,737.0 L1428.4,736.8 L1430.9,736.6 L1433.4,736.4 L1435.9,736.2 L1438.4,736.0 L1440.9,735.8 L1443.4,735.6 L1446.0,735.4 L1448.5,735.1 L1451.0,734.9 L1453.5,734.7 L1456.0,734.4 L1458.5,734.2 L1461.0,734.0 L1463.6,733.7 L1466.1,733.5 L1468.6,733.2 L1471.1,732.9 L1473.6,732.7 L1476.1,732.4 L1478.6,732.1 L1481.1,731.9 L1483.6,731.6 L1486.2,731.3 L1488.7,731.0 L1491.2,730.7 L1493.7,730.4 L1496.2,730.1 L1498.7,729.8 L1501.2,729.5 L1503.7,729.2 L1506.2,728.9 L1508.7,728.6 L1511.2,728.3 L1513.8,728.0 L1516.3,727.7 L1518.8,727.4 L1521.3,727.1 L1523.8,726.8 L1526.3,726.4 L1528.8,726.1 L1531.3,725.8 L1533.8,725.5 L1536.3,725.1 L1538.8,724.8 L1541.3,724.5 L1543.8,724.1 L1546.3,723.8 L1548.8,723.5 L1551.3,723.1 L1553.8,722.8 L1556.3,722.5 L1558.8,722.1 L1561.3,721.8 L1563.9,721.5 L1566.4,721.1 L1568.9,720.8 L1571.4,720.4 L1573.9,720.1 L1576.4,719.8 L1578.9,719.4 L1581.4,719.1 L1583.9,718.8 L1586.4,718.4 L1588.9,718.1 L1591.4,717.7 L1593.9,717.4 L1596.3,717.1 L1598.8,716.7 L1601.3,716.4 L1603.8,716.0 L1606.3,715.7 L1608.8,715.3 L1611.3,715.0 L1613.8,714.7 L1616.3,714.3 L1618.8,714.0 L1621.3,713.6 L1623.8,713.3 L1626.3,712.9 L1628.8,712.6 L1631.3,712.3 L1633.8,711.9 L1636.3,711.6 L1638.8,711.2 L1641.3,710.9 L1643.8,710.5 L1646.3,710.2 L1648.8,709.8 L1651.3,709.5 L1653.7,709.1 L1656.2,708.8 L1658.7,708.4 L1661.2,708.1 L1663.7,707.7 L1666.2,707.4 L1668.7,707.0 L1671.2,706.6 L1673.7,706.3 L1676.2,705.9 L1678.7,705.6 L1681.2,705.2 L1683.7,704.9 L1686.2,704.5 L1688.7,704.1 L1691.2,703.8 L1693.6,703.4 L1696.1,703.1 L1698.6,702.7 L1701.1,702.3 L1703.6,702.0 L1706.1,701.6 L1708.6,701.2 L1711.1,700.9 L1713.6,700.5 L1716.1,700.1 L1718.6,699.7 L1721.1,699.4 L1723.6,699.0 L1726.1,698.6 L1728.6,698.2 L1731.0,697.9 L1733.5,697.5 L1736.0,697.1 L1738.5,696.7 L1741.0,696.4 L1743.5,696.0 L1746.0,695.6 L1748.5,695.2 L1751.0,694.8 L1753.5,694.4 L1756.0,694.0 L1758.5,693.7 L1761.0,693.3 L1763.5,692.9 L1766.0,692.5 L1768.5,692.1 L1771.0,691.7" fill="none" stroke="#990000" stroke-width="11.5" stroke-linejoin="round" stroke-linecap="round"/>
<path d="M313.0,526.8 L315.3,527.5 L317.7,528.1 L320.1,528.7 L322.4,529.3 L324.8,529.9 L327.2,530.5 L329.6,531.0 L331.9,531.5 L334.3,532.0 L336.7,532.5 L339.1,533.0 L341.5,533.5 L343.9,533.9 L346.3,534.4 L348.7,534.8 L351.1,535.2 L353.5,535.6 L355.9,535.9 L358.3,536.3 L360.7,536.7 L363.1,537.0 L365.5,537.3 L367.9,537.7 L370.4,538.0 L372.8,538.3 L375.2,538.6 L377.6,538.9 L380.0,539.1 L382.4,539.4 L384.9,539.7 L387.3,539.9 L389.7,540.2 L392.1,540.4 L394.6,540.7 L397.0,540.9 L399.4,541.1 L401.9,541.3 L404.3,541.6 L406.7,541.8 L409.1,542.0 L411.6,542.2 L414.0,542.4 L416.4,542.6 L418.9,542.8 L421.3,543.0 L423.8,543.2 L426.2,543.4 L428.6,543.6 L431.1,543.8 L433.5,544.0 L435.9,544.2 L438.4,544.4 L440.8,544.6 L443.3,544.8 L445.7,545.0 L448.1,545.2 L450.6,545.4 L453.0,545.6 L455.5,545.8 L457.9,545.9 L460.4,546.1 L462.8,546.3 L465.2,546.5 L467.7,546.7 L470.1,546.9 L472.6,547.1 L475.0,547.2 L477.5,547.4 L479.9,547.6 L482.4,547.8 L484.8,548.0 L487.3,548.1 L489.7,548.3 L492.2,548.5 L494.6,548.7 L497.0,548.8 L499.5,549.0 L501.9,549.2 L504.4,549.4 L506.8,549.5 L509.3,549.7 L511.7,549.9 L514.2,550.0 L516.6,550.2 L519.1,550.4 L521.5,550.5 L524.0,550.7 L526.4,550.9 L528.9,551.0 L531.3,551.2 L533.8,551.3 L536.2,551.5 L538.7,551.6 L541.1,551.8 L543.6,551.9 L546.0,552.0 L548.5,552.2 L550.9,552.3 L553.4,552.4 L555.8,552.5 L558.3,552.6 L560.7,552.7 L563.2,552.8 L565.6,552.9 L568.0,553.0 L570.5,553.0 L572.9,553.1 L575.4,553.1 L577.8,553.2 L580.2,553.2 L582.7,553.2 L585.1,553.2 L587.6,553.2 L590.0,553.1 L592.4,553.1 L594.9,553.1 L597.3,553.0 L599.7,552.9 L602.2,552.8 L604.6,552.7 L607.0,552.6 L609.5,552.5 L611.9,552.3 L614.3,552.2 L616.7,552.0 L619.1,551.8 L621.6,551.6 L624.0,551.4 L626.4,551.2 L628.8,551.0 L631.2,550.7 L633.7,550.5 L636.1,550.2 L638.5,549.9 L640.9,549.6 L643.3,549.3 L645.7,548.9 L648.1,548.6 L650.5,548.3 L652.9,547.9 L655.3,547.5 L657.8,547.1 L660.2,546.7 L662.6,546.3 L665.0,545.9 L667.4,545.4 L669.8,545.0 L672.1,544.5 L674.5,544.0 L676.9,543.5 L679.3,543.1 L681.7,542.6 L684.1,542.0 L686.5,541.5 L688.9,541.0 L691.3,540.5 L693.7,540.0 L696.1,539.4 L698.5,538.9 L700.9,538.4 L703.3,537.8 L705.6,537.3 L708.0,536.8 L710.4,536.2 L712.8,535.7 L715.2,535.2 L717.6,534.6 L720.0,534.1 L722.4,533.6 L724.8,533.1 L727.2,532.6 L729.6,532.1 L732.0,531.6 L734.4,531.1 L736.8,530.6 L739.2,530.1 L741.6,529.6 L744.0,529.1 L746.4,528.7 L748.8,528.2 L751.2,527.8 L753.6,527.3 L756.0,526.9 L758.4,526.5 L760.8,526.0 L763.2,525.6 L765.6,525.2 L768.0,524.8 L770.5,524.4 L772.9,524.0 L775.3,523.6 L777.7,523.2 L780.1,522.9 L782.5,522.5 L784.9,522.1 L787.4,521.8 L789.8,521.4 L792.2,521.0 L794.6,520.7 L797.0,520.4 L799.5,520.0 L801.9,519.7 L804.3,519.4 L806.7,519.1 L809.1,518.7 L811.6,518.4 L814.0,518.1 L816.4,517.8 L818.8,517.5 L821.3,517.3 L823.7,517.0 L826.1,516.7 L828.5,516.4 L831.0,516.2 L833.4,515.9 L835.8,515.6 L838.3,515.4 L840.7,515.1 L843.1,514.9 L845.5,514.7 L848.0,514.4 L850.4,514.2 L852.8,514.0 L855.3,513.7 L857.7,513.5 L860.1,513.3 L862.6,513.1 L865.0,512.9 L867.4,512.7 L869.9,512.5 L872.3,512.3 L874.7,512.1 L877.2,512.0 L879.6,511.8 L882.1,511.6 L884.5,511.4 L886.9,511.3 L889.4,511.1 L891.8,511.0 L894.2,510.8 L896.7,510.7 L899.1,510.5 L901.6,510.4 L904.0,510.2 L906.4,510.1 L908.9,510.0 L911.3,509.8 L913.7,509.7 L916.2,509.6 L918.6,509.5 L921.1,509.4 L923.5,509.3 L925.9,509.2 L928.4,509.1 L930.8,509.0 L933.3,508.9 L935.7,508.8 L938.1,508.7 L940.6,508.6 L943.0,508.5 L945.5,508.4 L947.9,508.3 L950.4,508.3 L952.8,508.2 L955.2,508.1 L957.7,508.1 L960.1,508.0 L962.6,507.9 L965.0,507.9 L967.5,507.8 L969.9,507.8 L972.3,507.7 L974.8,507.7 L977.2,507.6 L979.7,507.6 L982.1,507.5 L984.6,507.5 L987.0,507.5 L989.4,507.4 L991.9,507.4 L994.3,507.4 L996.8,507.4 L999.2,507.3 L1001.7,507.3 L1004.1,507.3 L1006.6,507.3 L1009.0,507.2 L1011.5,507.2 L1013.9,507.2 L1016.3,507.2 L1018.8,507.2 L1021.2,507.2 L1023.7,507.2 L1026.1,507.2 L1028.6,507.1 L1031.0,507.1 L1033.5,507.1 L1035.9,507.1 L1038.4,507.1 L1040.8,507.1 L1043.2,507.1 L1045.7,507.1 L1048.1,507.1 L1050.6,507.2 L1053.0,507.2 L1055.5,507.2 L1057.9,507.2 L1060.4,507.2 L1062.8,507.2 L1065.3,507.2 L1067.7,507.2 L1070.2,507.2 L1072.6,507.2 L1075.1,507.2 L1077.5,507.3 L1080.0,507.3 L1082.4,507.3 L1084.8,507.3 L1087.3,507.3 L1089.7,507.3 L1092.2,507.3 L1094.6,507.4 L1097.1,507.4 L1099.5,507.4 L1102.0,507.4 L1104.4,507.4 L1106.9,507.4 L1109.3,507.5 L1111.8,507.5 L1114.2,507.5 L1116.7,507.5 L1119.1,507.5 L1121.6,507.5 L1124.0,507.5 L1126.5,507.6 L1128.9,507.6 L1131.4,507.6 L1133.8,507.6 L1136.3,507.6 L1138.7,507.6 L1141.1,507.6 L1143.6,507.6 L1146.0,507.6 L1148.5,507.6 L1150.9,507.7 L1153.4,507.7 L1155.8,507.7 L1158.3,507.7 L1160.7,507.7 L1163.2,507.7 L1165.6,507.7 L1168.1,507.7 L1170.5,507.7 L1173.0,507.7 L1175.4,507.7 L1177.9,507.7 L1180.3,507.6 L1182.8,507.6 L1185.2,507.6 L1187.6,507.6 L1190.1,507.6 L1192.5,507.6 L1195.0,507.6 L1197.4,507.5 L1199.9,507.5 L1202.3,507.5 L1204.8,507.5 L1207.2,507.4 L1209.7,507.4 L1212.1,507.4 L1214.6,507.4 L1217.0,507.3 L1219.4,507.3 L1221.9,507.2 L1224.3,507.2 L1226.8,507.2 L1229.2,507.1 L1231.7,507.1 L1234.1,507.0 L1236.6,507.0 L1239.0,506.9 L1241.5,506.8 L1243.9,506.8 L1246.3,506.7 L1248.8,506.7 L1251.2,506.6 L1253.7,506.5 L1256.1,506.4 L1258.6,506.4 L1261.0,506.3 L1263.5,506.2 L1265.9,506.1 L1268.3,506.0 L1270.8,505.9 L1273.2,505.8 L1275.7,505.7 L1278.1,505.6 L1280.6,505.5 L1283.0,505.4 L1285.4,505.3 L1287.9,505.2 L1290.3,505.1 L1292.8,505.0 L1295.2,504.9 L1297.7,504.8 L1300.1,504.6 L1302.5,504.5 L1305.0,504.4 L1307.4,504.3 L1309.9,504.1 L1312.3,504.0 L1314.8,503.9 L1317.2,503.8 L1319.6,503.6 L1322.1,503.5 L1324.5,503.3 L1327.0,503.2 L1329.4,503.1 L1331.8,502.9 L1334.3,502.8 L1336.7,502.6 L1339.2,502.5 L1341.6,502.3 L1344.1,502.1 L1346.5,502.0 L1348.9,501.8 L1351.4,501.7 L1353.8,501.5 L1356.3,501.4 L1358.7,501.2 L1361.1,501.0 L1363.6,500.9 L1366.0,500.7 L1368.5,500.5 L1370.9,500.4 L1373.3,500.2 L1375.8,500.0 L1378.2,499.8 L1380.7,499.7 L1383.1,499.5 L1385.5,499.3 L1388.0,499.1 L1390.4,498.9 L1392.9,498.8 L1395.3,498.6 L1397.7,498.4 L1400.2,498.2 L1402.6,498.0 L1405.1,497.8 L1407.5,497.7 L1409.9,497.5 L1412.4,497.3 L1414.8,497.1 L1417.2,496.9 L1419.7,496.7 L1422.1,496.5 L1424.6,496.3 L1427.0,496.1 L1429.4,495.9 L1431.9,495.7 L1434.3,495.5 L1436.8,495.3 L1439.2,495.2 L1441.6,495.0 L1444.1,494.8 L1446.5,494.6 L1449.0,494.4 L1451.4,494.2 L1453.8,494.0 L1456.3,493.8 L1458.7,493.6 L1461.2,493.4 L1463.6,493.2 L1466.0,493.0 L1468.5,492.8 L1470.9,492.6 L1473.3,492.4 L1475.8,492.2 L1478.2,492.0 L1480.7,491.8 L1483.1,491.6 L1485.5,491.4 L1488.0,491.2 L1490.4,491.0 L1492.9,490.8 L1495.3,490.6 L1497.7,490.4 L1500.2,490.2 L1502.6,490.0 L1505.0,489.8 L1507.5,489.6 L1509.9,489.4 L1512.4,489.2 L1514.8,489.0 L1517.2,488.8 L1519.7,488.6 L1522.1,488.4 L1524.6,488.2 L1527.0,488.0 L1529.4,487.8 L1531.9,487.7 L1534.3,487.5 L1536.8,487.3 L1539.2,487.1 L1541.6,486.9 L1544.1,486.7 L1546.5,486.5 L1549.0,486.3 L1551.4,486.2 L1553.8,486.0 L1556.3,485.8 L1558.7,485.6 L1561.1,485.4 L1563.6,485.2 L1566.0,485.1 L1568.5,484.9 L1570.9,484.7 L1573.3,484.5 L1575.8,484.4 L1578.2,484.2 L1580.7,484.0 L1583.1,483.8 L1585.5,483.7 L1588.0,483.5 L1590.4,483.3 L1592.9,483.2 L1595.3,483.0 L1597.7,482.8 L1600.2,482.7 L1602.6,482.5 L1605.1,482.4 L1607.5,482.2 L1609.9,482.1 L1612.4,481.9 L1614.8,481.8 L1617.3,481.6 L1619.7,481.5 L1622.2,481.3 L1624.6,481.2 L1627.0,481.0 L1629.5,480.9 L1631.9,480.7 L1634.4,480.6 L1636.8,480.4 L1639.2,480.3 L1641.7,480.1 L1644.1,480.0 L1646.6,479.9 L1649.0,479.7 L1651.4,479.6 L1653.9,479.4 L1656.3,479.3 L1658.8,479.1 L1661.2,479.0 L1663.6,478.8 L1666.1,478.7 L1668.5,478.6 L1671.0,478.4 L1673.4,478.3 L1675.9,478.1 L1678.3,478.0 L1680.7,477.8 L1683.2,477.7 L1685.6,477.5 L1688.1,477.4 L1690.5,477.2 L1692.9,477.1 L1695.4,476.9 L1697.8,476.8 L1700.3,476.6 L1702.7,476.5 L1705.1,476.3 L1707.6,476.1 L1710.0,476.0 L1712.5,475.8 L1714.9,475.6 L1717.3,475.5 L1719.8,475.3 L1722.2,475.1 L1724.7,474.9 L1727.1,474.8 L1729.5,474.6 L1732.0,474.4 L1734.4,474.2 L1736.9,474.0 L1739.3,473.8 L1741.7,473.6 L1744.2,473.5 L1746.6,473.3 L1749.1,473.1 L1751.5,472.8 L1753.9,472.6 L1756.4,472.4 L1758.8,472.2 L1761.2,472.0 L1763.7,471.8 L1766.1,471.6 L1768.6,471.3 L1771.0,471.1" fill="none" stroke="#ff0080" stroke-width="11.5" stroke-linejoin="round" stroke-linecap="round"/>
<rect x="306.9" y="24" width="11.5" height="1372" fill="#000"/>
<rect x="295" y="24" width="1906.5" height="12" fill="#000"/>
<rect x="2190" y="24" width="11.4" height="1344" fill="#000"/>
<rect x="293" y="1359.2" width="1842" height="11.3" fill="#000"/>
<rect x="2121.4" y="1356.7" width="80" height="11" fill="#000"/>
<rect x="280.6" y="1247.2" width="30" height="11.7" rx="2" fill="#000"/>
<rect x="280.6" y="1023.8" width="30" height="11.7" rx="2" fill="#000"/>
<rect x="280.6" y="800.5" width="30" height="11.7" rx="2" fill="#000"/>
<rect x="280.6" y="577.1" width="30" height="11.7" rx="2" fill="#000"/>
<rect x="280.6" y="353.8" width="30" height="11.7" rx="2" fill="#000"/>
<rect x="280.6" y="130.5" width="30" height="11.7" rx="2" fill="#000"/>
<rect x="292.6" y="1358.7" width="18" height="12" rx="2" fill="#000"/>
<rect x="292.6" y="1135.3" width="18" height="12" rx="2" fill="#000"/>
<rect x="292.6" y="912.0" width="18" height="12" rx="2" fill="#000"/>
<rect x="292.6" y="688.7" width="18" height="12" rx="2" fill="#000"/>
<rect x="292.6" y="465.3" width="18" height="12" rx="2" fill="#000"/>
<rect x="292.6" y="242.0" width="18" height="12" rx="2" fill="#000"/>
<rect x="292.6" y="18.6" width="18" height="12" rx="2" fill="#000"/>
<rect x="306.9" y="1365" width="11.4" height="30.5" rx="2" fill="#000"/>
<rect x="671.6" y="1365" width="11.4" height="30.5" rx="2" fill="#000"/>
<rect x="1036.2" y="1365" width="11.4" height="30.5" rx="2" fill="#000"/>
<rect x="1400.9" y="1365" width="11.4" height="30.5" rx="2" fill="#000"/>
<rect x="1765.6" y="1365" width="11.4" height="30.5" rx="2" fill="#000"/>
<rect x="489.2" y="1365" width="11.4" height="16.8" rx="2" fill="#000"/>
<rect x="853.9" y="1365" width="11.4" height="16.8" rx="2" fill="#000"/>
<rect x="1218.6" y="1365" width="11.4" height="16.8" rx="2" fill="#000"/>
<rect x="1583.2" y="1365" width="11.4" height="16.8" rx="2" fill="#000"/>
<rect x="1947.9" y="1365" width="11.4" height="16.8" rx="2" fill="#000"/>
<text x="263" y="1273.5" font-family="Liberation Serif, serif" font-weight="bold" font-size="76" text-anchor="end">0.2</text>
<text x="263" y="1050.2" font-family="Liberation Serif, serif" font-weight="bold" font-size="76" text-anchor="end">0.4</text>
<text x="263" y="826.8" font-family="Liberation Serif, serif" font-weight="bold" font-size="76" text-anchor="end">0.6</text>
<text x="263" y="603.5" font-family="Liberation Serif, serif" font-weight="bold" font-size="76" text-anchor="end">0.8</text>
<text x="263" y="380.1" font-family="Liberation Serif, serif" font-weight="bold" font-size="76" text-anchor="end">1.0</text>
<text x="263" y="156.8" font-family="Liberation Serif, serif" font-weight="bold" font-size="76" text-anchor="end">1.2</text>
<text x="309.6" y="1467.5" font-family="Liberation Serif, serif" font-weight="bold" font-size="76" text-anchor="middle">400</text>
<text x="674.3" y="1467.5" font-family="Liberation Serif, serif" font-weight="bold" font-size="76" text-anchor="middle">500</text>
<text x="1038.9" y="1467.5" font-family="Liberation Serif, serif" font-weight="bold" font-size="76" text-anchor="middle">600</text>
<text x="1403.6" y="1467.5" font-family="Liberation Serif, serif" font-weight="bold" font-size="76" text-anchor="middle">700</text>
<text x="1768.3" y="1467.5" font-family="Liberation Serif, serif" font-weight="bold" font-size="76" text-anchor="middle">800</text>
<text transform="translate(101,687) rotate(-90)" font-family="Liberation Serif, serif" font-weight="bold" font-size="108" text-anchor="middle">Abs</text>
<text x="825" y="1592" font-family="Liberation Serif, serif" font-weight="bold" font-size="108">Wavelength</text>
<text transform="translate(1360,1587) scale(1.18,1.0)" font-family="Noto Serif CJK SC, serif" font-weight="300" font-size="94">（</text>
<text x="1480.4" y="1591" font-family="Liberation Serif, serif" font-weight="bold" font-size="108">nm</text>
<text transform="translate(1634.9,1587) scale(1.18,1.0)" font-family="Noto Serif CJK SC, serif" font-weight="300" font-size="94">）</text>
<line x1="1905.5" y1="127.2" x2="2015" y2="127.2" stroke="#000000" stroke-width="11.5" stroke-linecap="round"/>
<text x="2030" y="140.7" font-family="Liberation Serif, serif" font-weight="bold" font-size="68">a</text>
<line x1="1905.5" y1="215.3" x2="2015" y2="215.3" stroke="#ff0000" stroke-width="11.5" stroke-linecap="round"/>
<text x="2033" y="228.8" font-family="Liberation Serif, serif" font-weight="bold" font-size="68">b</text>
<line x1="1905.5" y1="303.4" x2="2015" y2="303.4" stroke="#0000ff" stroke-width="11.5" stroke-linecap="round"/>
<text x="2033" y="316.9" font-family="Liberation Serif, serif" font-weight="bold" font-size="68">c</text>
<line x1="1905.5" y1="391.5" x2="2015" y2="391.5" stroke="#008080" stroke-width="11.5" stroke-linecap="round"/>
<text x="2033" y="405.0" font-family="Liberation Serif, serif" font-weight="bold" font-size="68">d</text>
<line x1="1905.5" y1="479.6" x2="2015" y2="479.6" stroke="#ff00ff" stroke-width="11.5" stroke-linecap="round"/>
<text x="2033" y="493.1" font-family="Liberation Serif, serif" font-weight="bold" font-size="68">e</text>
<line x1="1905.5" y1="567.7" x2="2015" y2="567.7" stroke="#808000" stroke-width="11.5" stroke-linecap="round"/>
<text x="2033" y="581.2" font-family="Liberation Serif, serif" font-weight="bold" font-size="68">f</text>
<line x1="1905.5" y1="655.8" x2="2015" y2="655.8" stroke="#000080" stroke-width="11.5" stroke-linecap="round"/>
<text x="2033" y="669.3" font-family="Liberation Serif, serif" font-weight="bold" font-size="68">g</text>
<line x1="1905.5" y1="743.9" x2="2015" y2="743.9" stroke="#990000" stroke-width="11.5" stroke-linecap="round"/>
<text x="2033" y="757.4" font-family="Liberation Serif, serif" font-weight="bold" font-size="68">h</text>
<line x1="1905.5" y1="832.0" x2="2015" y2="832.0" stroke="#ff0080" stroke-width="11.5" stroke-linecap="round"/>
<text x="2033" y="845.5" font-family="Liberation Serif, serif" font-weight="bold" font-size="68">i</text>
</svg>
</body></html>
